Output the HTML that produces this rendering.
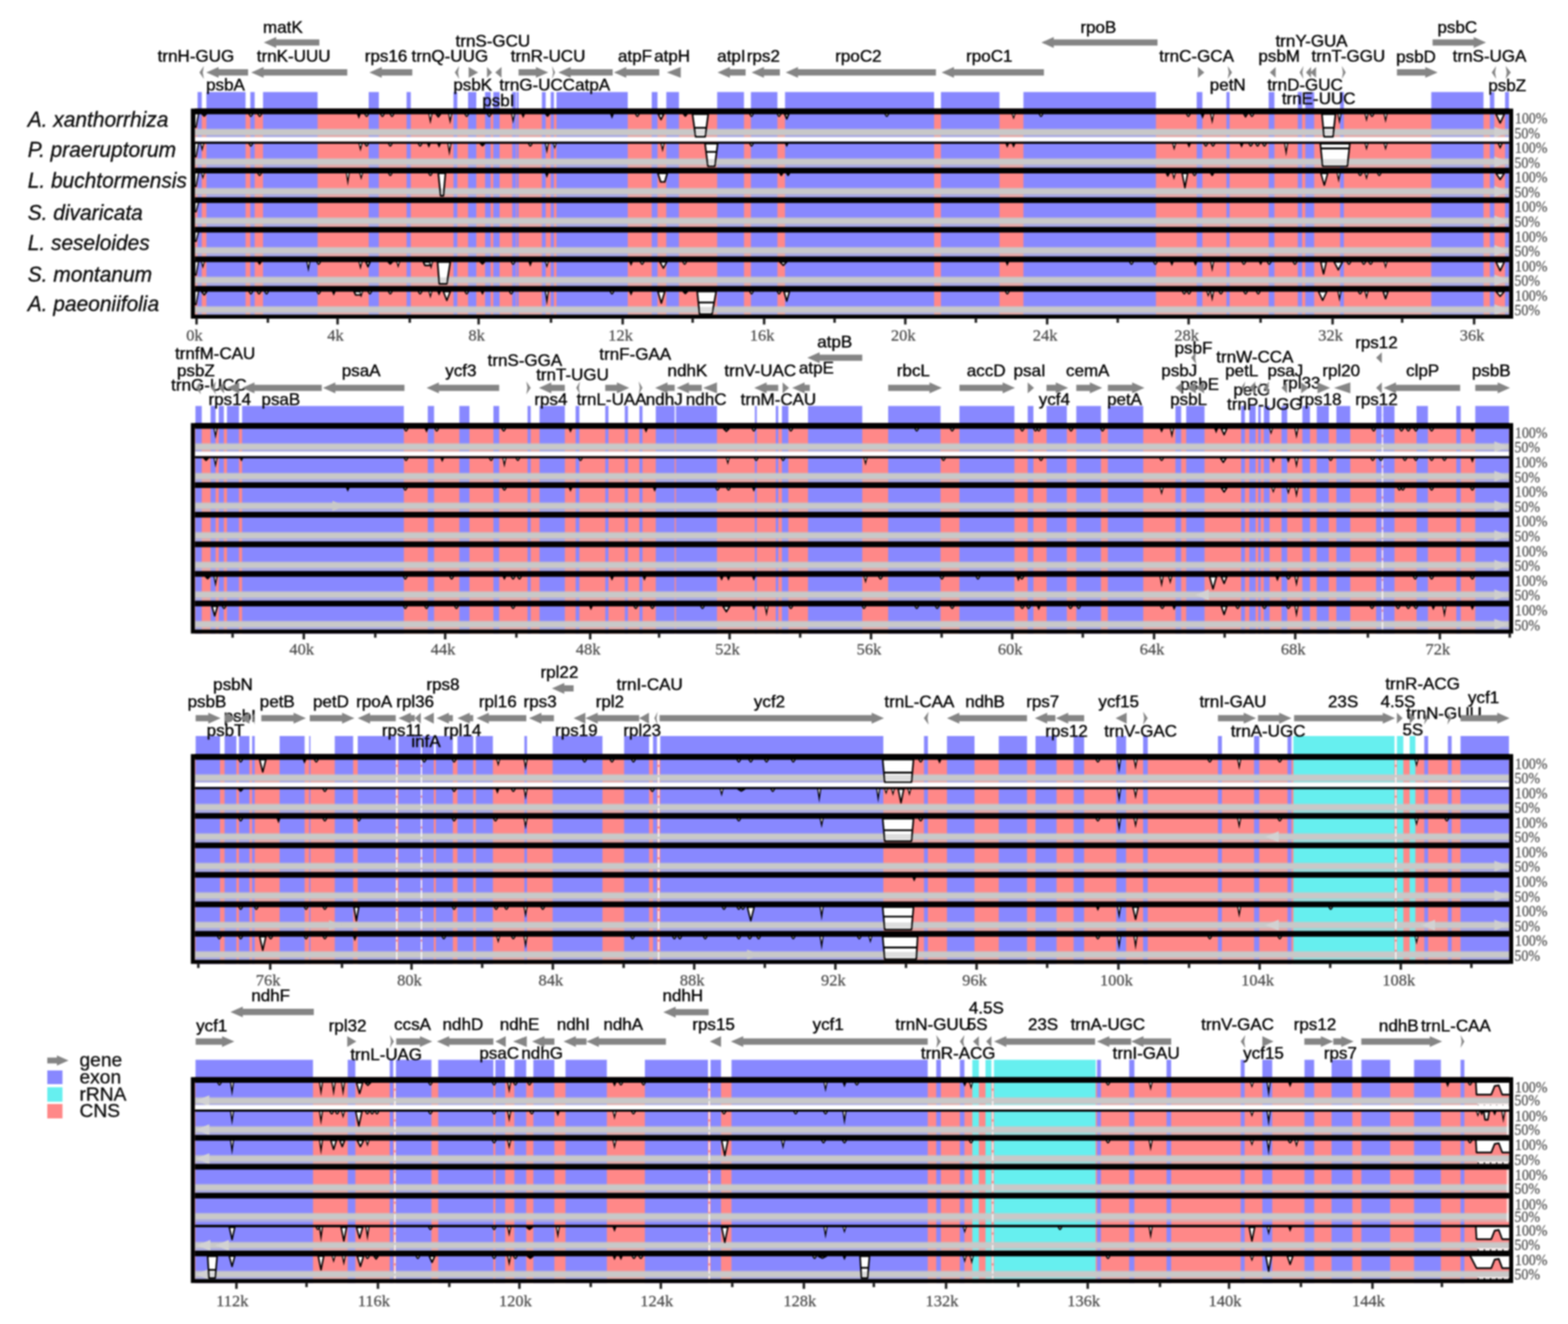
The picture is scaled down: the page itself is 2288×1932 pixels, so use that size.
<!DOCTYPE html><html><head><meta charset="utf-8"><title>mVISTA</title><style>html,body{margin:0;padding:0;background:#fff;}svg{display:block;}#wrap{filter:blur(1px);}.g{font-family:"Liberation Sans",Arial,sans-serif;font-size:24.8px;fill:#000000;stroke:#000000;stroke-width:0.5px;}.sp{font-family:"Liberation Sans",Arial,sans-serif;font-size:30.5px;font-style:italic;fill:#0c0c0c;stroke:#0c0c0c;stroke-width:0.45px;}.ax{font-family:"Liberation Serif","Times New Roman",serif;font-size:24px;fill:#4a4a4a;stroke:#4a4a4a;stroke-width:0.3px;}.pc{font-family:"Liberation Serif","Times New Roman",serif;font-size:23.5px;fill:#505050;stroke:#505050;stroke-width:0.3px;}.lg{font-family:"Liberation Sans",Arial,sans-serif;font-size:28px;fill:#0c0c0c;stroke:#0c0c0c;stroke-width:0.45px;}</style></head><body>
<div id="wrap">
<svg width="2288" height="1932" viewBox="0 0 2288 1932">
<rect x="0" y="0" width="2288" height="1932" fill="#fff"/>
<text class="sp" x="40.5" y="184.5">A. xanthorrhiza</text>
<text class="sp" x="40.5" y="229.2">P. praeruptorum</text>
<text class="sp" x="40.5" y="273.5">L. buchtormensis</text>
<text class="sp" x="40.5" y="320.5">S. divaricata</text>
<text class="sp" x="40.5" y="365.2">L. seseloides</text>
<text class="sp" x="40.5" y="411">S. montanum</text>
<text class="sp" x="40.5" y="454">A. paeoniifolia</text>
<rect x="288.3" y="134.3" width="6.1" height="24.7" fill="#8888ff"/>
<rect x="301.2" y="134.3" width="57.1" height="24.7" fill="#8888ff"/>
<rect x="365.3" y="134.3" width="6.3" height="24.7" fill="#8888ff"/>
<rect x="383.8" y="134.3" width="79.6" height="24.7" fill="#8888ff"/>
<rect x="538" y="134.3" width="14.8" height="24.7" fill="#8888ff"/>
<rect x="593.3" y="134.3" width="6.1" height="24.7" fill="#8888ff"/>
<rect x="661.7" y="134.3" width="5.6" height="24.7" fill="#8888ff"/>
<rect x="683" y="134.3" width="12" height="24.7" fill="#8888ff"/>
<rect x="707.8" y="134.3" width="8.2" height="24.7" fill="#8888ff"/>
<rect x="719.8" y="134.3" width="9.2" height="24.7" fill="#8888ff"/>
<rect x="747.4" y="134.3" width="5.6" height="24.7" fill="#8888ff"/>
<rect x="754" y="134.3" width="2.7" height="24.7" fill="#8888ff"/>
<rect x="790.7" y="134.3" width="5.6" height="24.7" fill="#8888ff"/>
<rect x="803.6" y="134.3" width="4.7" height="24.7" fill="#8888ff"/>
<rect x="812" y="134.3" width="104" height="24.7" fill="#8888ff"/>
<rect x="951" y="134.3" width="8.4" height="24.7" fill="#8888ff"/>
<rect x="972.3" y="134.3" width="18.4" height="24.7" fill="#8888ff"/>
<rect x="1046.5" y="134.3" width="39.1" height="24.7" fill="#8888ff"/>
<rect x="1095.7" y="134.3" width="38.7" height="24.7" fill="#8888ff"/>
<rect x="1145.5" y="134.3" width="217.5" height="24.7" fill="#8888ff"/>
<rect x="1373" y="134.3" width="85.4" height="24.7" fill="#8888ff"/>
<rect x="1493.4" y="134.3" width="193.3" height="24.7" fill="#8888ff"/>
<rect x="1746.2" y="134.3" width="8.3" height="24.7" fill="#8888ff"/>
<rect x="1789.6" y="134.3" width="4.6" height="24.7" fill="#8888ff"/>
<rect x="1851.3" y="134.3" width="8.3" height="24.7" fill="#8888ff"/>
<rect x="1893.7" y="134.3" width="6.3" height="24.7" fill="#8888ff"/>
<rect x="1904.7" y="134.3" width="12.9" height="24.7" fill="#8888ff"/>
<rect x="1955.4" y="134.3" width="5.6" height="24.7" fill="#8888ff"/>
<rect x="2088.5" y="134.3" width="76.2" height="24.7" fill="#8888ff"/>
<rect x="2174" y="134.3" width="6.5" height="24.7" fill="#8888ff"/>
<rect x="2196.2" y="134.3" width="5.6" height="24.7" fill="#8888ff"/>
<rect x="284.3" y="158.5" width="1918.2" height="306.5" fill="#ff8888"/>
<rect x="288.3" y="158.5" width="6.1" height="306.5" fill="#8888ff"/>
<rect x="301.2" y="158.5" width="57.1" height="306.5" fill="#8888ff"/>
<rect x="365.3" y="158.5" width="6.3" height="306.5" fill="#8888ff"/>
<rect x="383.8" y="158.5" width="79.6" height="306.5" fill="#8888ff"/>
<rect x="538" y="158.5" width="14.8" height="306.5" fill="#8888ff"/>
<rect x="593.3" y="158.5" width="6.1" height="306.5" fill="#8888ff"/>
<rect x="661.7" y="158.5" width="5.6" height="306.5" fill="#8888ff"/>
<rect x="683" y="158.5" width="12" height="306.5" fill="#8888ff"/>
<rect x="707.8" y="158.5" width="8.2" height="306.5" fill="#8888ff"/>
<rect x="719.8" y="158.5" width="9.2" height="306.5" fill="#8888ff"/>
<rect x="747.4" y="158.5" width="5.6" height="306.5" fill="#8888ff"/>
<rect x="754" y="158.5" width="2.7" height="306.5" fill="#8888ff"/>
<rect x="790.7" y="158.5" width="5.6" height="306.5" fill="#8888ff"/>
<rect x="803.6" y="158.5" width="4.7" height="306.5" fill="#8888ff"/>
<rect x="812" y="158.5" width="104" height="306.5" fill="#8888ff"/>
<rect x="951" y="158.5" width="8.4" height="306.5" fill="#8888ff"/>
<rect x="972.3" y="158.5" width="18.4" height="306.5" fill="#8888ff"/>
<rect x="1046.5" y="158.5" width="39.1" height="306.5" fill="#8888ff"/>
<rect x="1095.7" y="158.5" width="38.7" height="306.5" fill="#8888ff"/>
<rect x="1145.5" y="158.5" width="217.5" height="306.5" fill="#8888ff"/>
<rect x="1373" y="158.5" width="85.4" height="306.5" fill="#8888ff"/>
<rect x="1493.4" y="158.5" width="193.3" height="306.5" fill="#8888ff"/>
<rect x="1746.2" y="158.5" width="8.3" height="306.5" fill="#8888ff"/>
<rect x="1789.6" y="158.5" width="4.6" height="306.5" fill="#8888ff"/>
<rect x="1851.3" y="158.5" width="8.3" height="306.5" fill="#8888ff"/>
<rect x="1893.7" y="158.5" width="6.3" height="306.5" fill="#8888ff"/>
<rect x="1904.7" y="158.5" width="12.9" height="306.5" fill="#8888ff"/>
<rect x="1955.4" y="158.5" width="5.6" height="306.5" fill="#8888ff"/>
<rect x="2088.5" y="158.5" width="76.2" height="306.5" fill="#8888ff"/>
<rect x="2174" y="158.5" width="6.5" height="306.5" fill="#8888ff"/>
<rect x="2196.2" y="158.5" width="5.6" height="306.5" fill="#8888ff"/>
<rect x="284.3" y="187.5" width="1918.2" height="13.6" fill="#c8c8c8" opacity="0.55"/>
<rect x="284.3" y="189" width="1918.2" height="8" fill="#c8c8c8"/>
<polygon points="2180.5,185 2201.5,193 2180.5,201" fill="#cecece"/>
<rect x="284.3" y="230.65" width="1918.2" height="13.6" fill="#c8c8c8" opacity="0.55"/>
<rect x="284.3" y="232.15" width="1918.2" height="8" fill="#c8c8c8"/>
<polygon points="2180.5,228.15 2201.5,236.15 2180.5,244.15" fill="#cecece"/>
<rect x="284.3" y="273.8" width="1918.2" height="13.6" fill="#c8c8c8" opacity="0.55"/>
<rect x="284.3" y="275.3" width="1918.2" height="8" fill="#c8c8c8"/>
<polygon points="2180.5,271.3 2201.5,279.3 2180.5,287.3" fill="#cecece"/>
<rect x="284.3" y="316.95" width="1918.2" height="13.6" fill="#c8c8c8" opacity="0.55"/>
<rect x="284.3" y="318.45" width="1918.2" height="8" fill="#c8c8c8"/>
<polygon points="2180.5,314.45 2201.5,322.45 2180.5,330.45" fill="#cecece"/>
<rect x="284.3" y="360.1" width="1918.2" height="13.6" fill="#c8c8c8" opacity="0.55"/>
<rect x="284.3" y="361.6" width="1918.2" height="8" fill="#c8c8c8"/>
<polygon points="2180.5,357.6 2201.5,365.6 2180.5,373.6" fill="#cecece"/>
<rect x="284.3" y="403.25" width="1918.2" height="13.6" fill="#c8c8c8" opacity="0.55"/>
<rect x="284.3" y="404.75" width="1918.2" height="8" fill="#c8c8c8"/>
<polygon points="2180.5,400.75 2201.5,408.75 2180.5,416.75" fill="#cecece"/>
<rect x="284.3" y="446.4" width="1918.2" height="13.6" fill="#c8c8c8" opacity="0.55"/>
<rect x="284.3" y="447.9" width="1918.2" height="8" fill="#c8c8c8"/>
<polygon points="2180.5,443.9 2201.5,451.9 2180.5,459.9" fill="#cecece"/>
<polygon points="284.3,165.5 289.8,165.5 286.1,185.5 284.3,185.5" fill="#fff" stroke="#000" stroke-width="1.8"/>
<polygon points="284.3,208.65 289.8,208.65 286.1,228.65 284.3,228.65" fill="#fff" stroke="#000" stroke-width="1.8"/>
<polygon points="284.3,251.8 289.8,251.8 286.1,271.8 284.3,271.8" fill="#fff" stroke="#000" stroke-width="1.8"/>
<polygon points="284.3,294.95 289.8,294.95 286.1,308.95 284.3,308.95" fill="#fff" stroke="#000" stroke-width="1.8"/>
<polygon points="284.3,338.1 289.8,338.1 286.1,352.1 284.3,352.1" fill="#fff" stroke="#000" stroke-width="1.8"/>
<polygon points="284.3,381.25 289.8,381.25 286.1,401.25 284.3,401.25" fill="#fff" stroke="#000" stroke-width="1.8"/>
<polygon points="284.3,424.4 289.8,424.4 286.1,444.4 284.3,444.4" fill="#fff" stroke="#000" stroke-width="1.8"/>
<rect x="284.3" y="158.5" width="1918.2" height="8.2" fill="#000"/>
<rect x="284.3" y="200.15" width="1918.2" height="6.5" fill="#ffffff"/>
<rect x="284.3" y="206.65" width="1918.2" height="3.2" fill="#000"/>
<rect x="284.3" y="244.8" width="1918.2" height="8.2" fill="#000"/>
<rect x="284.3" y="287.95" width="1918.2" height="8.2" fill="#000"/>
<rect x="284.3" y="331.1" width="1918.2" height="8.2" fill="#000"/>
<rect x="284.3" y="374.25" width="1918.2" height="8.2" fill="#000"/>
<rect x="284.3" y="417.4" width="1918.2" height="8.2" fill="#000"/>
<polygon points="295,166.5 301,166.5 298,169.5" fill="#fff" stroke="#000" stroke-width="2.2" stroke-linejoin="round"/>
<path d="M362.4,166 Q366,175.5 369.6,166 Z" fill="#000"/>
<circle cx="366" cy="167.5" r="0.9" fill="#fff"/>
<path d="M375.4,166 Q379,175.5 382.6,166 Z" fill="#000"/>
<circle cx="379" cy="167.5" r="0.9" fill="#fff"/>
<polygon points="520.5,165.5 526.7,165.5 523.6,173.5" fill="#000"/>
<path d="M531.4,166 Q535,175.5 538.6,166 Z" fill="#000"/>
<circle cx="535" cy="167.5" r="0.9" fill="#fff"/>
<path d="M554.4,166 Q558,175.5 561.6,166 Z" fill="#000"/>
<circle cx="558" cy="167.5" r="0.9" fill="#fff"/>
<path d="M568.4,166 Q572,175.5 575.6,166 Z" fill="#000"/>
<circle cx="572" cy="167.5" r="0.9" fill="#fff"/>
<polygon points="624.9,165.5 631.1,165.5 628,181.5" fill="#000"/>
<polygon points="626.7,166.8 629.3,166.8 628,172.8" fill="#fff"/>
<polygon points="636.6,166.5 642.6,166.5 639.6,170.5" fill="#fff" stroke="#000" stroke-width="2.2" stroke-linejoin="round"/>
<polygon points="653.7,165.5 659.9,165.5 656.8,181.5" fill="#000"/>
<polygon points="655.5,166.8 658.1,166.8 656.8,172.8" fill="#fff"/>
<path d="M677.4,166 Q681,175.5 684.6,166 Z" fill="#000"/>
<circle cx="681" cy="167.5" r="0.9" fill="#fff"/>
<path d="M710.4,166 Q714,175.5 717.6,166 Z" fill="#000"/>
<circle cx="714" cy="167.5" r="0.9" fill="#fff"/>
<polygon points="745.6,165.5 751.8,165.5 748.7,180.5" fill="#000"/>
<polygon points="747.4,166.8 750,166.8 748.7,172.38" fill="#fff"/>
<polygon points="760.3,165.5 766.5,165.5 763.4,172.5" fill="#000"/>
<polygon points="796.5,166.5 801.5,166.5 799,169.5" fill="#fff" stroke="#000" stroke-width="2.2" stroke-linejoin="round"/>
<polygon points="889.9,165.5 896.1,165.5 893,173.5" fill="#000"/>
<path d="M926.4,166 Q930,175.5 933.6,166 Z" fill="#000"/>
<circle cx="930" cy="167.5" r="0.9" fill="#fff"/>
<polygon points="960.5,166.5 968.5,166.5 964.5,174.5" fill="#fff" stroke="#000" stroke-width="2.2" stroke-linejoin="round"/>
<polygon points="997.5,166.5 1002.5,166.5 1000,169.5" fill="#fff" stroke="#000" stroke-width="2.2" stroke-linejoin="round"/>
<polygon points="1010.5,166.5 1033.4,166.5 1029,199.5 1015,199.5" fill="#fff" stroke="#000" stroke-width="2.4" stroke-linejoin="round"/>
<rect x="1014.77" y="189" width="14.43" height="8" fill="#c8c8c8" opacity="0.6"/>
<line x1="1013.23" y1="186.5" x2="1030.73" y2="186.5" stroke="#000" stroke-width="2.6"/>
<path d="M1093,166 Q1096.6,175.5 1100.2,166 Z" fill="#000"/>
<circle cx="1096.6" cy="167.5" r="0.9" fill="#fff"/>
<path d="M1133.2,166 Q1136.8,175.5 1140.4,166 Z" fill="#000"/>
<circle cx="1136.8" cy="167.5" r="0.9" fill="#fff"/>
<polygon points="1145,166.5 1151,166.5 1148,173.5" fill="#fff" stroke="#000" stroke-width="2.2" stroke-linejoin="round"/>
<path d="M1290.4,166 Q1294,175.5 1297.6,166 Z" fill="#000"/>
<circle cx="1294" cy="167.5" r="0.9" fill="#fff"/>
<polygon points="1475.9,165.5 1482.1,165.5 1479,174.5" fill="#000"/>
<polygon points="1477.7,166.8 1480.3,166.8 1479,169.86" fill="#fff"/>
<path d="M1515.4,166 Q1519,175.5 1522.6,166 Z" fill="#000"/>
<circle cx="1519" cy="167.5" r="0.9" fill="#fff"/>
<path d="M1730.4,166 Q1734,175.5 1737.6,166 Z" fill="#000"/>
<circle cx="1734" cy="167.5" r="0.9" fill="#fff"/>
<polygon points="1751.7,165.5 1757.9,165.5 1754.8,173.5" fill="#000"/>
<polygon points="1765.7,165.5 1771.9,165.5 1768.8,181.5" fill="#000"/>
<polygon points="1767.5,166.8 1770.1,166.8 1768.8,172.8" fill="#fff"/>
<polygon points="1815,166.5 1820,166.5 1817.5,170.5" fill="#fff" stroke="#000" stroke-width="2.2" stroke-linejoin="round"/>
<path d="M1823.2,166 Q1826.8,175.5 1830.4,166 Z" fill="#000"/>
<circle cx="1826.8" cy="167.5" r="0.9" fill="#fff"/>
<polygon points="1929,166.5 1948.7,166.5 1945,199.5 1932,199.5" fill="#fff" stroke="#000" stroke-width="2.4" stroke-linejoin="round"/>
<rect x="1932.25" y="189" width="12.73" height="8" fill="#c8c8c8" opacity="0.6"/>
<line x1="1930.82" y1="186.5" x2="1946.46" y2="186.5" stroke="#000" stroke-width="2.6"/>
<polygon points="1951.4,165.5 1957.6,165.5 1954.5,181.5" fill="#000"/>
<polygon points="1953.2,166.8 1955.8,166.8 1954.5,172.8" fill="#fff"/>
<polygon points="1990.9,165.5 1997.1,165.5 1994,178.1" fill="#000"/>
<polygon points="1992.7,166.8 1995.3,166.8 1994,171.37" fill="#fff"/>
<path d="M1998.4,166 Q2002,175.5 2005.6,166 Z" fill="#000"/>
<circle cx="2002" cy="167.5" r="0.9" fill="#fff"/>
<polygon points="2018.7,165.5 2024.9,165.5 2021.8,179.5" fill="#000"/>
<polygon points="2020.5,166.8 2023.1,166.8 2021.8,171.96" fill="#fff"/>
<polygon points="2183,166.5 2195,166.5 2189,179.5" fill="#fff" stroke="#000" stroke-width="2.2" stroke-linejoin="round"/>
<polygon points="291.9,208.65 298.1,208.65 295,221.15" fill="#000"/>
<polygon points="293.7,209.95 296.3,209.95 295,214.48" fill="#fff"/>
<path d="M362.4,209.15 Q366,218.65 369.6,209.15 Z" fill="#000"/>
<circle cx="366" cy="210.65" r="0.9" fill="#fff"/>
<polygon points="522.9,208.65 529.1,208.65 526,221.15" fill="#000"/>
<polygon points="524.7,209.95 527.3,209.95 526,214.48" fill="#fff"/>
<path d="M531.4,209.15 Q535,218.65 538.6,209.15 Z" fill="#000"/>
<circle cx="535" cy="210.65" r="0.9" fill="#fff"/>
<path d="M565.9,209.15 Q569.5,218.65 573.1,209.15 Z" fill="#000"/>
<circle cx="569.5" cy="210.65" r="0.9" fill="#fff"/>
<path d="M609.4,209.15 Q613,218.65 616.6,209.15 Z" fill="#000"/>
<circle cx="613" cy="210.65" r="0.9" fill="#fff"/>
<polygon points="622.7,208.65 628.9,208.65 625.8,215.65" fill="#000"/>
<polygon points="637.6,208.65 643.8,208.65 640.7,215.65" fill="#000"/>
<polygon points="652.6,208.65 658.8,208.65 655.7,227.65" fill="#000"/>
<polygon points="654.4,209.95 657,209.95 655.7,217.21" fill="#fff"/>
<polygon points="701,209.65 707,209.65 704,212.65" fill="#fff" stroke="#000" stroke-width="2.2" stroke-linejoin="round"/>
<path d="M770.2,209.15 Q773.8,218.65 777.4,209.15 Z" fill="#000"/>
<circle cx="773.8" cy="210.65" r="0.9" fill="#fff"/>
<polygon points="794.9,208.65 801.1,208.65 798,224.65" fill="#000"/>
<polygon points="796.7,209.95 799.3,209.95 798,215.95" fill="#fff"/>
<polygon points="806.3,208.65 812.5,208.65 809.4,217.65" fill="#000"/>
<polygon points="808.1,209.95 810.7,209.95 809.4,213.01" fill="#fff"/>
<polygon points="963.7,208.65 969.9,208.65 966.8,222.25" fill="#000"/>
<polygon points="965.5,209.95 968.1,209.95 966.8,214.94" fill="#fff"/>
<polygon points="1028.8,209.65 1047.2,209.65 1043,242.65 1033,242.65" fill="#fff" stroke="#000" stroke-width="2.4" stroke-linejoin="round"/>
<rect x="1032.86" y="232.15" width="10.27" height="8" fill="#c8c8c8" opacity="0.6"/>
<line x1="1030.33" y1="221.65" x2="1045.67" y2="221.65" stroke="#000" stroke-width="2.6"/>
<path d="M1093,209.15 Q1096.6,218.65 1100.2,209.15 Z" fill="#000"/>
<circle cx="1096.6" cy="210.65" r="0.9" fill="#fff"/>
<polygon points="1144.9,208.65 1151.1,208.65 1148,214.65" fill="#000"/>
<polygon points="1466.7,208.65 1472.9,208.65 1469.8,215.65" fill="#000"/>
<polygon points="1475.9,208.65 1482.1,208.65 1479,215.65" fill="#000"/>
<polygon points="1710.2,208.65 1716.4,208.65 1713.3,219.65" fill="#000"/>
<polygon points="1712,209.95 1714.6,209.95 1713.3,213.85" fill="#fff"/>
<polygon points="1731.9,208.65 1738.1,208.65 1735,215.65" fill="#000"/>
<path d="M1755.9,209.15 Q1759.5,218.65 1763.1,209.15 Z" fill="#000"/>
<circle cx="1759.5" cy="210.65" r="0.9" fill="#fff"/>
<path d="M1766.4,209.15 Q1770,218.65 1773.6,209.15 Z" fill="#000"/>
<circle cx="1770" cy="210.65" r="0.9" fill="#fff"/>
<polygon points="1808.6,208.65 1814.8,208.65 1811.7,215.65" fill="#000"/>
<path d="M1821.4,209.15 Q1825,218.65 1828.6,209.15 Z" fill="#000"/>
<circle cx="1825" cy="210.65" r="0.9" fill="#fff"/>
<path d="M1831.4,209.15 Q1835,218.65 1838.6,209.15 Z" fill="#000"/>
<circle cx="1835" cy="210.65" r="0.9" fill="#fff"/>
<path d="M1841.4,209.15 Q1845,218.65 1848.6,209.15 Z" fill="#000"/>
<circle cx="1845" cy="210.65" r="0.9" fill="#fff"/>
<polygon points="1873.6,208.65 1879.8,208.65 1876.7,228.25" fill="#000"/>
<polygon points="1875.4,209.95 1878,209.95 1876.7,217.46" fill="#fff"/>
<polygon points="1926.6,209.65 1969.6,209.65 1966,242.65 1930,242.65" fill="#fff" stroke="#000" stroke-width="2.4" stroke-linejoin="round"/>
<rect x="1930.12" y="232.15" width="35.83" height="8" fill="#c8c8c8" opacity="0.6"/>
<line x1="1927.32" y1="216.65" x2="1968.84" y2="216.65" stroke="#000" stroke-width="2.6"/>
<polygon points="1990.9,208.65 1997.1,208.65 1994,219.65" fill="#000"/>
<polygon points="1992.7,209.95 1995.3,209.95 1994,213.85" fill="#fff"/>
<polygon points="2018.7,208.65 2024.9,208.65 2021.8,219.65" fill="#000"/>
<polygon points="2020.5,209.95 2023.1,209.95 2021.8,213.85" fill="#fff"/>
<polygon points="2185,208.65 2193,208.65 2189,217.65" fill="#000"/>
<polygon points="2187.7,209.95 2190.3,209.95 2189,213.01" fill="#fff"/>
<polygon points="293,251.8 299,251.8 296,261.8" fill="#000"/>
<polygon points="294.7,253.1 297.3,253.1 296,256.58" fill="#fff"/>
<path d="M375.2,252.3 Q378.8,261.8 382.4,252.3 Z" fill="#000"/>
<circle cx="378.8" cy="253.8" r="0.9" fill="#fff"/>
<polygon points="504.5,251.8 510.5,251.8 507.5,271.2" fill="#000"/>
<polygon points="506.2,253.1 508.8,253.1 507.5,260.53" fill="#fff"/>
<polygon points="523.9,251.8 530.1,251.8 527,262.8" fill="#000"/>
<polygon points="525.7,253.1 528.3,253.1 527,257" fill="#fff"/>
<path d="M565.9,252.3 Q569.5,261.8 573.1,252.3 Z" fill="#000"/>
<circle cx="569.5" cy="253.8" r="0.9" fill="#fff"/>
<path d="M624.4,252.3 Q628,261.8 631.6,252.3 Z" fill="#000"/>
<circle cx="628" cy="253.8" r="0.9" fill="#fff"/>
<polygon points="639.6,252.8 650,252.8 647,285.8 643,285.8" fill="#fff" stroke="#000" stroke-width="2.4" stroke-linejoin="round"/>
<rect x="643.12" y="275.3" width="3.64" height="8" fill="#c8c8c8" opacity="0.6"/>
<polygon points="794.9,251.8 801.1,251.8 798,259.8" fill="#000"/>
<polygon points="960,252.8 973.7,252.8 970,265.4 964,265.4" fill="#fff" stroke="#000" stroke-width="2.4" stroke-linejoin="round"/>
<polygon points="1138,252.8 1142,252.8 1140,255.8" fill="#fff" stroke="#000" stroke-width="2.2" stroke-linejoin="round"/>
<polygon points="1148,252.8 1152,252.8 1150,255.8" fill="#fff" stroke="#000" stroke-width="2.2" stroke-linejoin="round"/>
<polygon points="1702,252.8 1706,252.8 1704,256.8" fill="#fff" stroke="#000" stroke-width="2.2" stroke-linejoin="round"/>
<polygon points="1709.9,251.8 1716.1,251.8 1713,262.8" fill="#000"/>
<polygon points="1711.7,253.1 1714.3,253.1 1713,257" fill="#fff"/>
<polygon points="1725,252.8 1733,252.8 1729,273.8" fill="#fff" stroke="#000" stroke-width="2.2" stroke-linejoin="round"/>
<path d="M1739.4,252.3 Q1743,261.8 1746.6,252.3 Z" fill="#000"/>
<circle cx="1743" cy="253.8" r="0.9" fill="#fff"/>
<polygon points="1766.8,252.8 1770.8,252.8 1768.8,255.8" fill="#fff" stroke="#000" stroke-width="2.2" stroke-linejoin="round"/>
<polygon points="1927.4,252.8 1937.4,252.8 1932.4,270.2" fill="#fff" stroke="#000" stroke-width="2.2" stroke-linejoin="round"/>
<polygon points="1950.2,251.8 1956.4,251.8 1953.3,266.8" fill="#000"/>
<polygon points="1952,253.1 1954.6,253.1 1953.3,258.68" fill="#fff"/>
<path d="M1981.1,252.3 Q1984.7,261.8 1988.3,252.3 Z" fill="#000"/>
<circle cx="1984.7" cy="253.8" r="0.9" fill="#fff"/>
<polygon points="1990.9,251.8 1997.1,251.8 1994,262.8" fill="#000"/>
<polygon points="1992.7,253.1 1995.3,253.1 1994,257" fill="#fff"/>
<path d="M2009,252.3 Q2012.6,261.8 2016.2,252.3 Z" fill="#000"/>
<circle cx="2012.6" cy="253.8" r="0.9" fill="#fff"/>
<polygon points="2183,252.8 2195,252.8 2189,261.8" fill="#fff" stroke="#000" stroke-width="2.2" stroke-linejoin="round"/>
<polygon points="292.9,381.25 299.1,381.25 296,392.25" fill="#000"/>
<polygon points="294.7,382.55 297.3,382.55 296,386.45" fill="#fff"/>
<polygon points="376.8,382.25 380.8,382.25 378.8,385.25" fill="#fff" stroke="#000" stroke-width="2.2" stroke-linejoin="round"/>
<polygon points="446.9,381.25 453.1,381.25 450,397.25" fill="#000"/>
<polygon points="448.7,382.55 451.3,382.55 450,388.55" fill="#fff"/>
<path d="M461.4,381.75 Q465,391.25 468.6,381.75 Z" fill="#000"/>
<circle cx="465" cy="383.25" r="0.9" fill="#fff"/>
<polygon points="522.9,381.25 529.1,381.25 526,393.75" fill="#000"/>
<polygon points="524.7,382.55 527.3,382.55 526,387.08" fill="#fff"/>
<polygon points="534,382.25 540,382.25 537,389.25" fill="#fff" stroke="#000" stroke-width="2.2" stroke-linejoin="round"/>
<polygon points="566.5,382.25 572.5,382.25 569.5,385.25" fill="#fff" stroke="#000" stroke-width="2.2" stroke-linejoin="round"/>
<polygon points="577.9,381.25 584.1,381.25 581,391.25" fill="#000"/>
<polygon points="579.7,382.55 582.3,382.55 581,386.03" fill="#fff"/>
<polygon points="617.8,382.25 629,382.25 627,387.25 620,387.25" fill="#fff" stroke="#000" stroke-width="2.4" stroke-linejoin="round"/>
<polygon points="625.9,381.25 632.1,381.25 629,393.25" fill="#000"/>
<polygon points="627.7,382.55 630.3,382.55 629,386.87" fill="#fff"/>
<polygon points="638.5,382.25 657,382.25 652,414.25 641,414.25" fill="#fff" stroke="#000" stroke-width="2.4" stroke-linejoin="round"/>
<rect x="641.46" y="404.75" width="10.83" height="8" fill="#c8c8c8" opacity="0.6"/>
<polygon points="701,382.25 707,382.25 704,385.25" fill="#fff" stroke="#000" stroke-width="2.2" stroke-linejoin="round"/>
<path d="M745.1,381.75 Q748.7,391.25 752.3,381.75 Z" fill="#000"/>
<circle cx="748.7" cy="383.25" r="0.9" fill="#fff"/>
<polygon points="770.7,381.25 776.9,381.25 773.8,389.25" fill="#000"/>
<polygon points="794.9,381.25 801.1,381.25 798,391.25" fill="#000"/>
<polygon points="796.7,382.55 799.3,382.55 798,386.03" fill="#fff"/>
<polygon points="917.7,381.25 923.9,381.25 920.8,388.25" fill="#000"/>
<path d="M933.4,381.75 Q937,391.25 940.6,381.75 Z" fill="#000"/>
<circle cx="937" cy="383.25" r="0.9" fill="#fff"/>
<polygon points="963,382.25 973,382.25 968,391.25" fill="#fff" stroke="#000" stroke-width="2.2" stroke-linejoin="round"/>
<path d="M995.4,381.75 Q999,391.25 1002.6,381.75 Z" fill="#000"/>
<circle cx="999" cy="383.25" r="0.9" fill="#fff"/>
<polygon points="1138,382.25 1148,382.25 1143,387.25" fill="#fff" stroke="#000" stroke-width="2.2" stroke-linejoin="round"/>
<polygon points="1466.7,381.25 1472.9,381.25 1469.8,388.25" fill="#000"/>
<path d="M1647.4,381.75 Q1651,391.25 1654.6,381.75 Z" fill="#000"/>
<circle cx="1651" cy="383.25" r="0.9" fill="#fff"/>
<path d="M1682.2,381.75 Q1685.8,391.25 1689.4,381.75 Z" fill="#000"/>
<circle cx="1685.8" cy="383.25" r="0.9" fill="#fff"/>
<polygon points="1706.9,381.25 1713.1,381.25 1710,388.25" fill="#000"/>
<polygon points="1741.3,381.25 1747.5,381.25 1744.4,388.25" fill="#000"/>
<polygon points="1765.7,381.25 1771.9,381.25 1768.8,397.25" fill="#000"/>
<polygon points="1767.5,382.55 1770.1,382.55 1768.8,388.55" fill="#fff"/>
<path d="M1811.4,381.75 Q1815,391.25 1818.6,381.75 Z" fill="#000"/>
<circle cx="1815" cy="383.25" r="0.9" fill="#fff"/>
<polygon points="1836.5,381.25 1842.7,381.25 1839.6,387.25" fill="#000"/>
<path d="M1848.4,381.75 Q1852,391.25 1855.6,381.75 Z" fill="#000"/>
<circle cx="1852" cy="383.25" r="0.9" fill="#fff"/>
<path d="M1885.9,381.75 Q1889.5,391.25 1893.1,381.75 Z" fill="#000"/>
<circle cx="1889.5" cy="383.25" r="0.9" fill="#fff"/>
<polygon points="1927.3,382.25 1935.3,382.25 1931.3,399.65" fill="#fff" stroke="#000" stroke-width="2.2" stroke-linejoin="round"/>
<polygon points="1946.8,382.25 1958.8,382.25 1952.8,393.85" fill="#fff" stroke="#000" stroke-width="2.2" stroke-linejoin="round"/>
<path d="M1964.8,381.75 Q1968.4,391.25 1972,381.75 Z" fill="#000"/>
<circle cx="1968.4" cy="383.25" r="0.9" fill="#fff"/>
<path d="M1986.4,381.75 Q1990,391.25 1993.6,381.75 Z" fill="#000"/>
<circle cx="1990" cy="383.25" r="0.9" fill="#fff"/>
<path d="M1996.4,381.75 Q2000,391.25 2003.6,381.75 Z" fill="#000"/>
<circle cx="2000" cy="383.25" r="0.9" fill="#fff"/>
<polygon points="2018.7,381.25 2024.9,381.25 2021.8,392.25" fill="#000"/>
<polygon points="2020.5,382.55 2023.1,382.55 2021.8,386.45" fill="#fff"/>
<polygon points="2183,382.25 2195,382.25 2189,395.05" fill="#fff" stroke="#000" stroke-width="2.2" stroke-linejoin="round"/>
<polygon points="294,425.4 302,425.4 298,430.4" fill="#fff" stroke="#000" stroke-width="2.2" stroke-linejoin="round"/>
<path d="M362.4,424.9 Q366,434.4 369.6,424.9 Z" fill="#000"/>
<circle cx="366" cy="426.4" r="0.9" fill="#fff"/>
<path d="M374.4,424.9 Q378,434.4 381.6,424.9 Z" fill="#000"/>
<circle cx="378" cy="426.4" r="0.9" fill="#fff"/>
<path d="M385.4,424.9 Q389,434.4 392.6,424.9 Z" fill="#000"/>
<circle cx="389" cy="426.4" r="0.9" fill="#fff"/>
<path d="M461.4,424.9 Q465,434.4 468.6,424.9 Z" fill="#000"/>
<circle cx="465" cy="426.4" r="0.9" fill="#fff"/>
<polygon points="483.9,424.4 490.1,424.4 487,431.4" fill="#000"/>
<polygon points="516.7,425.4 528,425.4 526,430.4 519,430.4" fill="#fff" stroke="#000" stroke-width="2.4" stroke-linejoin="round"/>
<polygon points="523.9,424.4 530.1,424.4 527,434.4" fill="#000"/>
<polygon points="525.7,425.7 528.3,425.7 527,429.18" fill="#fff"/>
<path d="M536.1,424.9 Q539.7,434.4 543.3,424.9 Z" fill="#000"/>
<circle cx="539.7" cy="426.4" r="0.9" fill="#fff"/>
<path d="M565.9,424.9 Q569.5,434.4 573.1,424.9 Z" fill="#000"/>
<circle cx="569.5" cy="426.4" r="0.9" fill="#fff"/>
<path d="M609.4,424.9 Q613,434.4 616.6,424.9 Z" fill="#000"/>
<circle cx="613" cy="426.4" r="0.9" fill="#fff"/>
<polygon points="624.9,424.4 631.1,424.4 628,435.4" fill="#000"/>
<polygon points="626.7,425.7 629.3,425.7 628,429.6" fill="#fff"/>
<polygon points="637.6,424.4 643.8,424.4 640.7,431.4" fill="#000"/>
<polygon points="647,425.4 657,425.4 652,438.4" fill="#fff" stroke="#000" stroke-width="2.2" stroke-linejoin="round"/>
<path d="M677.4,424.9 Q681,434.4 684.6,424.9 Z" fill="#000"/>
<circle cx="681" cy="426.4" r="0.9" fill="#fff"/>
<polygon points="700.9,424.4 707.1,424.4 704,430.4" fill="#000"/>
<path d="M742.4,424.9 Q746,434.4 749.6,424.9 Z" fill="#000"/>
<circle cx="746" cy="426.4" r="0.9" fill="#fff"/>
<polygon points="794.9,424.4 801.1,424.4 798,446.1" fill="#000"/>
<polygon points="796.7,425.7 799.3,425.7 798,433.4" fill="#fff"/>
<path d="M889.4,424.9 Q893,434.4 896.6,424.9 Z" fill="#000"/>
<circle cx="893" cy="426.4" r="0.9" fill="#fff"/>
<polygon points="917.7,424.4 923.9,424.4 920.8,431.4" fill="#000"/>
<polygon points="960,425.4 970,425.4 965,442.4" fill="#fff" stroke="#000" stroke-width="2.2" stroke-linejoin="round"/>
<polygon points="997,425.4 1003,425.4 1000,428.4" fill="#fff" stroke="#000" stroke-width="2.2" stroke-linejoin="round"/>
<polygon points="1017.4,425.4 1045,425.4 1039,458.4 1020.8,458.4" fill="#fff" stroke="#000" stroke-width="2.4" stroke-linejoin="round"/>
<rect x="1020.92" y="447.9" width="18.79" height="8" fill="#c8c8c8" opacity="0.6"/>
<line x1="1019.05" y1="441.4" x2="1042.09" y2="441.4" stroke="#000" stroke-width="2.6"/>
<path d="M1093,424.9 Q1096.6,434.4 1100.2,424.9 Z" fill="#000"/>
<circle cx="1096.6" cy="426.4" r="0.9" fill="#fff"/>
<path d="M1133.2,424.9 Q1136.8,434.4 1140.4,424.9 Z" fill="#000"/>
<circle cx="1136.8" cy="426.4" r="0.9" fill="#fff"/>
<polygon points="1144,425.4 1152,425.4 1148,439.4" fill="#fff" stroke="#000" stroke-width="2.2" stroke-linejoin="round"/>
<path d="M1466.2,424.9 Q1469.8,434.4 1473.4,424.9 Z" fill="#000"/>
<circle cx="1469.8" cy="426.4" r="0.9" fill="#fff"/>
<path d="M1724.4,424.9 Q1728,434.4 1731.6,424.9 Z" fill="#000"/>
<circle cx="1728" cy="426.4" r="0.9" fill="#fff"/>
<path d="M1731.4,424.9 Q1735,434.4 1738.6,424.9 Z" fill="#000"/>
<circle cx="1735" cy="426.4" r="0.9" fill="#fff"/>
<polygon points="1759.9,424.4 1766.1,424.4 1763,433.4" fill="#000"/>
<polygon points="1761.7,425.7 1764.3,425.7 1763,428.76" fill="#fff"/>
<polygon points="1765.7,424.4 1771.9,424.4 1768.8,440.4" fill="#000"/>
<polygon points="1767.5,425.7 1770.1,425.7 1768.8,431.7" fill="#fff"/>
<path d="M1777.9,424.9 Q1781.5,434.4 1785.1,424.9 Z" fill="#000"/>
<circle cx="1781.5" cy="426.4" r="0.9" fill="#fff"/>
<path d="M1813.9,424.9 Q1817.5,434.4 1821.1,424.9 Z" fill="#000"/>
<circle cx="1817.5" cy="426.4" r="0.9" fill="#fff"/>
<path d="M1832.4,424.9 Q1836,434.4 1839.6,424.9 Z" fill="#000"/>
<circle cx="1836" cy="426.4" r="0.9" fill="#fff"/>
<polygon points="1924,425.4 1936,425.4 1930,438.2" fill="#fff" stroke="#000" stroke-width="2.2" stroke-linejoin="round"/>
<polygon points="1951.4,424.4 1957.6,424.4 1954.5,440.4" fill="#000"/>
<polygon points="1953.2,425.7 1955.8,425.7 1954.5,431.7" fill="#fff"/>
<path d="M1981.1,424.9 Q1984.7,434.4 1988.3,424.9 Z" fill="#000"/>
<circle cx="1984.7" cy="426.4" r="0.9" fill="#fff"/>
<polygon points="1990.9,424.4 1997.1,424.4 1994,437" fill="#000"/>
<polygon points="1992.7,425.7 1995.3,425.7 1994,430.27" fill="#fff"/>
<polygon points="2018.3,425.4 2025.3,425.4 2021.8,435.8" fill="#fff" stroke="#000" stroke-width="2.2" stroke-linejoin="round"/>
<polygon points="2183,425.4 2195,425.4 2189,432.4" fill="#fff" stroke="#000" stroke-width="2.2" stroke-linejoin="round"/>
<rect x="281.4" y="161.4" width="1923.7" height="300.7" fill="none" stroke="#000" stroke-width="5.8"/>
<text class="pc" transform="translate(2210.5,179.9) scale(0.865,1)">100%</text>
<text class="pc" transform="translate(2209.8,201.5) scale(0.865,1)">50%</text>
<text class="pc" transform="translate(2210.5,223.05) scale(0.865,1)">100%</text>
<text class="pc" transform="translate(2209.8,244.65) scale(0.865,1)">50%</text>
<text class="pc" transform="translate(2210.5,266.2) scale(0.865,1)">100%</text>
<text class="pc" transform="translate(2209.8,287.8) scale(0.865,1)">50%</text>
<text class="pc" transform="translate(2210.5,309.35) scale(0.865,1)">100%</text>
<text class="pc" transform="translate(2209.8,330.95) scale(0.865,1)">50%</text>
<text class="pc" transform="translate(2210.5,352.5) scale(0.865,1)">100%</text>
<text class="pc" transform="translate(2209.8,374.1) scale(0.865,1)">50%</text>
<text class="pc" transform="translate(2210.5,395.65) scale(0.865,1)">100%</text>
<text class="pc" transform="translate(2209.8,417.25) scale(0.865,1)">50%</text>
<text class="pc" transform="translate(2210.5,438.8) scale(0.865,1)">100%</text>
<text class="pc" transform="translate(2209.8,460.4) scale(0.865,1)">50%</text>
<rect x="285.2" y="592.4" width="9.2" height="25.5" fill="#8888ff"/>
<rect x="307.3" y="592.4" width="7.3" height="25.5" fill="#8888ff"/>
<rect x="319.2" y="592.4" width="7.4" height="25.5" fill="#8888ff"/>
<rect x="331.2" y="592.4" width="17.5" height="25.5" fill="#8888ff"/>
<rect x="353.3" y="592.4" width="236" height="25.5" fill="#8888ff"/>
<rect x="624.2" y="592.4" width="9.2" height="25.5" fill="#8888ff"/>
<rect x="670.3" y="592.4" width="14.7" height="25.5" fill="#8888ff"/>
<rect x="720" y="592.4" width="8.4" height="25.5" fill="#8888ff"/>
<rect x="769.8" y="592.4" width="4.6" height="25.5" fill="#8888ff"/>
<rect x="787.3" y="592.4" width="36.9" height="25.5" fill="#8888ff"/>
<rect x="839.9" y="592.4" width="5.5" height="25.5" fill="#8888ff"/>
<rect x="883.2" y="592.4" width="4.6" height="25.5" fill="#8888ff"/>
<rect x="911.7" y="592.4" width="4.6" height="25.5" fill="#8888ff"/>
<rect x="933" y="592.4" width="4.5" height="25.5" fill="#8888ff"/>
<rect x="956.9" y="592.4" width="27.6" height="25.5" fill="#8888ff"/>
<rect x="986.3" y="592.4" width="59.9" height="25.5" fill="#8888ff"/>
<rect x="1101.5" y="592.4" width="2.8" height="25.5" fill="#8888ff"/>
<rect x="1132" y="592.4" width="3.6" height="25.5" fill="#8888ff"/>
<rect x="1141" y="592.4" width="9.4" height="25.5" fill="#8888ff"/>
<rect x="1179" y="592.4" width="79.2" height="25.5" fill="#8888ff"/>
<rect x="1296" y="592.4" width="76.4" height="25.5" fill="#8888ff"/>
<rect x="1400" y="592.4" width="80.2" height="25.5" fill="#8888ff"/>
<rect x="1499.6" y="592.4" width="8.3" height="25.5" fill="#8888ff"/>
<rect x="1527.2" y="592.4" width="29.5" height="25.5" fill="#8888ff"/>
<rect x="1570.5" y="592.4" width="36" height="25.5" fill="#8888ff"/>
<rect x="1616.6" y="592.4" width="51.6" height="25.5" fill="#8888ff"/>
<rect x="1715.2" y="592.4" width="8.3" height="25.5" fill="#8888ff"/>
<rect x="1730.9" y="592.4" width="26.7" height="25.5" fill="#8888ff"/>
<rect x="1811" y="592.4" width="5.6" height="25.5" fill="#8888ff"/>
<rect x="1823" y="592.4" width="9.2" height="25.5" fill="#8888ff"/>
<rect x="1836" y="592.4" width="3.6" height="25.5" fill="#8888ff"/>
<rect x="1844.2" y="592.4" width="8.3" height="25.5" fill="#8888ff"/>
<rect x="1870" y="592.4" width="8.3" height="25.5" fill="#8888ff"/>
<rect x="1900.4" y="592.4" width="11.1" height="25.5" fill="#8888ff"/>
<rect x="1921.4" y="592.4" width="17.6" height="25.5" fill="#8888ff"/>
<rect x="1950" y="592.4" width="20.3" height="25.5" fill="#8888ff"/>
<rect x="2008" y="592.4" width="8.3" height="25.5" fill="#8888ff"/>
<rect x="2018.2" y="592.4" width="16.6" height="25.5" fill="#8888ff"/>
<rect x="2067" y="592.4" width="16.6" height="25.5" fill="#8888ff"/>
<rect x="2125" y="592.4" width="6.5" height="25.5" fill="#8888ff"/>
<rect x="2152.7" y="592.4" width="49.1" height="25.5" fill="#8888ff"/>
<rect x="284.3" y="617.4" width="1918.2" height="307.1" fill="#ff8888"/>
<rect x="285.2" y="617.4" width="9.2" height="307.1" fill="#8888ff"/>
<rect x="307.3" y="617.4" width="7.3" height="307.1" fill="#8888ff"/>
<rect x="319.2" y="617.4" width="7.4" height="307.1" fill="#8888ff"/>
<rect x="331.2" y="617.4" width="17.5" height="307.1" fill="#8888ff"/>
<rect x="353.3" y="617.4" width="236" height="307.1" fill="#8888ff"/>
<rect x="624.2" y="617.4" width="9.2" height="307.1" fill="#8888ff"/>
<rect x="670.3" y="617.4" width="14.7" height="307.1" fill="#8888ff"/>
<rect x="720" y="617.4" width="8.4" height="307.1" fill="#8888ff"/>
<rect x="769.8" y="617.4" width="4.6" height="307.1" fill="#8888ff"/>
<rect x="787.3" y="617.4" width="36.9" height="307.1" fill="#8888ff"/>
<rect x="839.9" y="617.4" width="5.5" height="307.1" fill="#8888ff"/>
<rect x="883.2" y="617.4" width="4.6" height="307.1" fill="#8888ff"/>
<rect x="911.7" y="617.4" width="4.6" height="307.1" fill="#8888ff"/>
<rect x="933" y="617.4" width="4.5" height="307.1" fill="#8888ff"/>
<rect x="956.9" y="617.4" width="27.6" height="307.1" fill="#8888ff"/>
<rect x="986.3" y="617.4" width="59.9" height="307.1" fill="#8888ff"/>
<rect x="1101.5" y="617.4" width="2.8" height="307.1" fill="#8888ff"/>
<rect x="1132" y="617.4" width="3.6" height="307.1" fill="#8888ff"/>
<rect x="1141" y="617.4" width="9.4" height="307.1" fill="#8888ff"/>
<rect x="1179" y="617.4" width="79.2" height="307.1" fill="#8888ff"/>
<rect x="1296" y="617.4" width="76.4" height="307.1" fill="#8888ff"/>
<rect x="1400" y="617.4" width="80.2" height="307.1" fill="#8888ff"/>
<rect x="1499.6" y="617.4" width="8.3" height="307.1" fill="#8888ff"/>
<rect x="1527.2" y="617.4" width="29.5" height="307.1" fill="#8888ff"/>
<rect x="1570.5" y="617.4" width="36" height="307.1" fill="#8888ff"/>
<rect x="1616.6" y="617.4" width="51.6" height="307.1" fill="#8888ff"/>
<rect x="1715.2" y="617.4" width="8.3" height="307.1" fill="#8888ff"/>
<rect x="1730.9" y="617.4" width="26.7" height="307.1" fill="#8888ff"/>
<rect x="1811" y="617.4" width="5.6" height="307.1" fill="#8888ff"/>
<rect x="1823" y="617.4" width="9.2" height="307.1" fill="#8888ff"/>
<rect x="1836" y="617.4" width="3.6" height="307.1" fill="#8888ff"/>
<rect x="1844.2" y="617.4" width="8.3" height="307.1" fill="#8888ff"/>
<rect x="1870" y="617.4" width="8.3" height="307.1" fill="#8888ff"/>
<rect x="1900.4" y="617.4" width="11.1" height="307.1" fill="#8888ff"/>
<rect x="1921.4" y="617.4" width="17.6" height="307.1" fill="#8888ff"/>
<rect x="1950" y="617.4" width="20.3" height="307.1" fill="#8888ff"/>
<rect x="2008" y="617.4" width="8.3" height="307.1" fill="#8888ff"/>
<rect x="2018.2" y="617.4" width="16.6" height="307.1" fill="#8888ff"/>
<rect x="2067" y="617.4" width="16.6" height="307.1" fill="#8888ff"/>
<rect x="2125" y="617.4" width="6.5" height="307.1" fill="#8888ff"/>
<rect x="2152.7" y="617.4" width="49.1" height="307.1" fill="#8888ff"/>
<rect x="284.3" y="646.4" width="1918.2" height="13.6" fill="#c8c8c8" opacity="0.55"/>
<rect x="284.3" y="647.9" width="1918.2" height="8" fill="#c8c8c8"/>
<polygon points="2180.5,643.9 2201.5,651.9 2180.5,659.9" fill="#cecece"/>
<rect x="284.3" y="689.6" width="1918.2" height="13.6" fill="#c8c8c8" opacity="0.55"/>
<rect x="284.3" y="691.1" width="1918.2" height="8" fill="#c8c8c8"/>
<polygon points="2180.5,687.1 2201.5,695.1 2180.5,703.1" fill="#cecece"/>
<rect x="284.3" y="732.8" width="1918.2" height="13.6" fill="#c8c8c8" opacity="0.55"/>
<rect x="284.3" y="734.3" width="1918.2" height="8" fill="#c8c8c8"/>
<polygon points="2180.5,730.3 2201.5,738.3 2180.5,746.3" fill="#cecece"/>
<polygon points="485,730.8 505,738.3 485,745.8" fill="#c8c8c8"/>
<rect x="284.3" y="776" width="1918.2" height="13.6" fill="#c8c8c8" opacity="0.55"/>
<rect x="284.3" y="777.5" width="1918.2" height="8" fill="#c8c8c8"/>
<polygon points="2180.5,773.5 2201.5,781.5 2180.5,789.5" fill="#cecece"/>
<rect x="284.3" y="819.2" width="1918.2" height="13.6" fill="#c8c8c8" opacity="0.55"/>
<rect x="284.3" y="820.7" width="1918.2" height="8" fill="#c8c8c8"/>
<polygon points="2180.5,816.7 2201.5,824.7 2180.5,832.7" fill="#cecece"/>
<rect x="284.3" y="862.4" width="1918.2" height="13.6" fill="#c8c8c8" opacity="0.55"/>
<rect x="284.3" y="863.9" width="1918.2" height="8" fill="#c8c8c8"/>
<polygon points="2180.5,859.9 2201.5,867.9 2180.5,875.9" fill="#cecece"/>
<polygon points="1764,859.9 1744,867.9 1764,875.9" fill="#d2d2d2"/>
<rect x="284.3" y="905.6" width="1918.2" height="13.6" fill="#c8c8c8" opacity="0.55"/>
<rect x="284.3" y="907.1" width="1918.2" height="8" fill="#c8c8c8"/>
<polygon points="2180.5,903.1 2201.5,911.1 2180.5,919.1" fill="#cecece"/>
<line x1="2017.3" y1="592.4" x2="2017.3" y2="924.5" stroke="#fff" stroke-width="1.7" stroke-dasharray="12 3"/>
<rect x="284.3" y="617.4" width="1918.2" height="8.2" fill="#000"/>
<rect x="284.3" y="659.1" width="1918.2" height="6.5" fill="#ffffff"/>
<rect x="284.3" y="665.6" width="1918.2" height="3.2" fill="#000"/>
<rect x="284.3" y="703.8" width="1918.2" height="8.2" fill="#000"/>
<rect x="284.3" y="747" width="1918.2" height="8.2" fill="#000"/>
<rect x="284.3" y="790.2" width="1918.2" height="8.2" fill="#000"/>
<rect x="284.3" y="833.4" width="1918.2" height="8.2" fill="#000"/>
<rect x="284.3" y="876.6" width="1918.2" height="8.2" fill="#000"/>
<polygon points="311.4,624.4 317.6,624.4 314.5,640.4" fill="#000"/>
<polygon points="313.2,625.7 315.8,625.7 314.5,631.7" fill="#fff"/>
<path d="M588.9,624.9 Q592.5,634.4 596.1,624.9 Z" fill="#000"/>
<circle cx="592.5" cy="626.4" r="0.9" fill="#fff"/>
<polygon points="619.3,624.4 625.5,624.4 622.4,631.4" fill="#000"/>
<path d="M633.7,624.9 Q637.3,634.4 640.9,624.9 Z" fill="#000"/>
<circle cx="637.3" cy="626.4" r="0.9" fill="#fff"/>
<path d="M731.4,624.9 Q735,634.4 738.6,624.9 Z" fill="#000"/>
<circle cx="735" cy="626.4" r="0.9" fill="#fff"/>
<polygon points="829.3,624.4 835.5,624.4 832.4,631.4" fill="#000"/>
<polygon points="939.6,624.4 945.8,624.4 942.7,631.4" fill="#000"/>
<polygon points="1055.9,625.4 1063.9,625.4 1059.9,629.4" fill="#fff" stroke="#000" stroke-width="2.2" stroke-linejoin="round"/>
<path d="M1096.4,624.9 Q1100,634.4 1103.6,624.9 Z" fill="#000"/>
<circle cx="1100" cy="626.4" r="0.9" fill="#fff"/>
<path d="M1150.4,624.9 Q1154,634.4 1157.6,624.9 Z" fill="#000"/>
<circle cx="1154" cy="626.4" r="0.9" fill="#fff"/>
<path d="M1334.1,624.9 Q1337.7,634.4 1341.3,624.9 Z" fill="#000"/>
<circle cx="1337.7" cy="626.4" r="0.9" fill="#fff"/>
<path d="M1385.8,624.9 Q1389.4,634.4 1393,624.9 Z" fill="#000"/>
<circle cx="1389.4" cy="626.4" r="0.9" fill="#fff"/>
<path d="M1488,624.9 Q1491.6,634.4 1495.2,624.9 Z" fill="#000"/>
<circle cx="1491.6" cy="626.4" r="0.9" fill="#fff"/>
<path d="M1507.4,624.9 Q1511,634.4 1514.6,624.9 Z" fill="#000"/>
<circle cx="1511" cy="626.4" r="0.9" fill="#fff"/>
<path d="M1512.1,624.9 Q1515.7,634.4 1519.3,624.9 Z" fill="#000"/>
<circle cx="1515.7" cy="626.4" r="0.9" fill="#fff"/>
<path d="M1559.2,624.9 Q1562.8,634.4 1566.4,624.9 Z" fill="#000"/>
<circle cx="1562.8" cy="626.4" r="0.9" fill="#fff"/>
<path d="M1605.2,624.9 Q1608.8,634.4 1612.4,624.9 Z" fill="#000"/>
<circle cx="1608.8" cy="626.4" r="0.9" fill="#fff"/>
<polygon points="1691.9,624.4 1698.1,624.4 1695,631.4" fill="#000"/>
<polygon points="1706.9,624.4 1713.1,624.4 1710,639.4" fill="#000"/>
<polygon points="1708.7,625.7 1711.3,625.7 1710,631.28" fill="#fff"/>
<polygon points="1771.5,624.4 1777.7,624.4 1774.6,632.4" fill="#000"/>
<polygon points="1782.2,625.4 1790.2,625.4 1786.2,634.4" fill="#fff" stroke="#000" stroke-width="2.2" stroke-linejoin="round"/>
<polygon points="1851.6,624.4 1857.8,624.4 1854.7,634.4" fill="#000"/>
<polygon points="1853.4,625.7 1856,625.7 1854.7,629.18" fill="#fff"/>
<polygon points="1888.7,624.4 1894.9,624.4 1891.8,640.4" fill="#000"/>
<polygon points="1890.5,625.7 1893.1,625.7 1891.8,631.7" fill="#fff"/>
<path d="M2000.8,624.9 Q2004.4,634.4 2008,624.9 Z" fill="#000"/>
<circle cx="2004.4" cy="626.4" r="0.9" fill="#fff"/>
<path d="M2041.4,624.9 Q2045,634.4 2048.6,624.9 Z" fill="#000"/>
<circle cx="2045" cy="626.4" r="0.9" fill="#fff"/>
<path d="M2051.4,624.9 Q2055,634.4 2058.6,624.9 Z" fill="#000"/>
<circle cx="2055" cy="626.4" r="0.9" fill="#fff"/>
<path d="M2062.4,624.9 Q2066,634.4 2069.6,624.9 Z" fill="#000"/>
<circle cx="2066" cy="626.4" r="0.9" fill="#fff"/>
<path d="M2085.4,624.9 Q2089,634.4 2092.6,624.9 Z" fill="#000"/>
<circle cx="2089" cy="626.4" r="0.9" fill="#fff"/>
<polygon points="2145.3,624.4 2151.5,624.4 2148.4,630.4" fill="#000"/>
<polygon points="297.7,668.6 303.7,668.6 300.7,671.6" fill="#fff" stroke="#000" stroke-width="2.2" stroke-linejoin="round"/>
<polygon points="311.4,667.6 317.6,667.6 314.5,682.6" fill="#000"/>
<polygon points="313.2,668.9 315.8,668.9 314.5,674.48" fill="#fff"/>
<polygon points="349.3,667.6 355.5,667.6 352.4,673.6" fill="#000"/>
<path d="M588.9,668.1 Q592.5,677.6 596.1,668.1 Z" fill="#000"/>
<circle cx="592.5" cy="669.6" r="0.9" fill="#fff"/>
<polygon points="642.2,667.6 648.4,667.6 645.3,674.6" fill="#000"/>
<path d="M713,668.1 Q716.6,677.6 720.2,668.1 Z" fill="#000"/>
<circle cx="716.6" cy="669.6" r="0.9" fill="#fff"/>
<polygon points="732.9,667.6 739.1,667.6 736,682.6" fill="#000"/>
<polygon points="734.7,668.9 737.3,668.9 736,674.48" fill="#fff"/>
<path d="M752,668.1 Q755.6,677.6 759.2,668.1 Z" fill="#000"/>
<circle cx="755.6" cy="669.6" r="0.9" fill="#fff"/>
<path d="M843.4,668.1 Q847,677.6 850.6,668.1 Z" fill="#000"/>
<circle cx="847" cy="669.6" r="0.9" fill="#fff"/>
<polygon points="1058.9,667.6 1065.1,667.6 1062,678.6" fill="#000"/>
<polygon points="1060.7,668.9 1063.3,668.9 1062,672.8" fill="#fff"/>
<path d="M1099.9,668.1 Q1103.5,677.6 1107.1,668.1 Z" fill="#000"/>
<circle cx="1103.5" cy="669.6" r="0.9" fill="#fff"/>
<path d="M1139,668.1 Q1142.6,677.6 1146.2,668.1 Z" fill="#000"/>
<circle cx="1142.6" cy="669.6" r="0.9" fill="#fff"/>
<polygon points="1259.9,667.6 1266.1,667.6 1263,679.6" fill="#000"/>
<polygon points="1261.7,668.9 1264.3,668.9 1263,673.22" fill="#fff"/>
<path d="M1373.1,668.1 Q1376.7,677.6 1380.3,668.1 Z" fill="#000"/>
<circle cx="1376.7" cy="669.6" r="0.9" fill="#fff"/>
<path d="M1515.4,668.1 Q1519,677.6 1522.6,668.1 Z" fill="#000"/>
<circle cx="1519" cy="669.6" r="0.9" fill="#fff"/>
<path d="M1691.4,668.1 Q1695,677.6 1698.6,668.1 Z" fill="#000"/>
<circle cx="1695" cy="669.6" r="0.9" fill="#fff"/>
<polygon points="1781,668.6 1789,668.6 1785,674.6" fill="#fff" stroke="#000" stroke-width="2.2" stroke-linejoin="round"/>
<polygon points="1854.9,667.6 1861.1,667.6 1858,675.6" fill="#000"/>
<polygon points="1876.9,667.6 1883.1,667.6 1880,675.6" fill="#000"/>
<polygon points="1888.7,667.6 1894.9,667.6 1891.8,683.6" fill="#000"/>
<polygon points="1890.5,668.9 1893.1,668.9 1891.8,674.9" fill="#fff"/>
<path d="M1938.1,668.1 Q1941.7,677.6 1945.3,668.1 Z" fill="#000"/>
<circle cx="1941.7" cy="669.6" r="0.9" fill="#fff"/>
<path d="M1999.4,668.1 Q2003,677.6 2006.6,668.1 Z" fill="#000"/>
<circle cx="2003" cy="669.6" r="0.9" fill="#fff"/>
<path d="M2011.4,668.1 Q2015,677.6 2018.6,668.1 Z" fill="#000"/>
<circle cx="2015" cy="669.6" r="0.9" fill="#fff"/>
<path d="M2046.4,668.1 Q2050,677.6 2053.6,668.1 Z" fill="#000"/>
<circle cx="2050" cy="669.6" r="0.9" fill="#fff"/>
<path d="M2062.4,668.1 Q2066,677.6 2069.6,668.1 Z" fill="#000"/>
<circle cx="2066" cy="669.6" r="0.9" fill="#fff"/>
<path d="M2085.4,668.1 Q2089,677.6 2092.6,668.1 Z" fill="#000"/>
<circle cx="2089" cy="669.6" r="0.9" fill="#fff"/>
<path d="M2104.1,668.1 Q2107.7,677.6 2111.3,668.1 Z" fill="#000"/>
<circle cx="2107.7" cy="669.6" r="0.9" fill="#fff"/>
<polygon points="2145.3,667.6 2151.5,667.6 2148.4,675.6" fill="#000"/>
<polygon points="504.4,710.8 510.6,710.8 507.5,717.8" fill="#000"/>
<path d="M587.8,711.3 Q591.4,720.8 595,711.3 Z" fill="#000"/>
<circle cx="591.4" cy="712.8" r="0.9" fill="#fff"/>
<path d="M732.4,711.3 Q736,720.8 739.6,711.3 Z" fill="#000"/>
<circle cx="736" cy="712.8" r="0.9" fill="#fff"/>
<polygon points="829.3,710.8 835.5,710.8 832.4,717.8" fill="#000"/>
<polygon points="952.2,710.8 958.4,710.8 955.3,717.8" fill="#000"/>
<path d="M1043.4,711.3 Q1047,720.8 1050.6,711.3 Z" fill="#000"/>
<circle cx="1047" cy="712.8" r="0.9" fill="#fff"/>
<path d="M1059.4,711.3 Q1063,720.8 1066.6,711.3 Z" fill="#000"/>
<circle cx="1063" cy="712.8" r="0.9" fill="#fff"/>
<polygon points="1096.9,710.8 1103.1,710.8 1100,717.8" fill="#000"/>
<polygon points="1691.9,710.8 1698.1,710.8 1695,722.8" fill="#000"/>
<polygon points="1693.7,712.1 1696.3,712.1 1695,716.42" fill="#fff"/>
<polygon points="1782.2,711.8 1790.2,711.8 1786.2,717.8" fill="#fff" stroke="#000" stroke-width="2.2" stroke-linejoin="round"/>
<polygon points="1854.9,710.8 1861.1,710.8 1858,719.8" fill="#000"/>
<polygon points="1856.7,712.1 1859.3,712.1 1858,715.16" fill="#fff"/>
<polygon points="1876.9,710.8 1883.1,710.8 1880,721.8" fill="#000"/>
<polygon points="1878.7,712.1 1881.3,712.1 1880,716" fill="#fff"/>
<polygon points="1888.7,710.8 1894.9,710.8 1891.8,726.8" fill="#000"/>
<polygon points="1890.5,712.1 1893.1,712.1 1891.8,718.1" fill="#fff"/>
<path d="M2038.4,711.3 Q2042,720.8 2045.6,711.3 Z" fill="#000"/>
<circle cx="2042" cy="712.8" r="0.9" fill="#fff"/>
<path d="M2043.4,711.3 Q2047,720.8 2050.6,711.3 Z" fill="#000"/>
<circle cx="2047" cy="712.8" r="0.9" fill="#fff"/>
<path d="M2085.4,711.3 Q2089,720.8 2092.6,711.3 Z" fill="#000"/>
<circle cx="2089" cy="712.8" r="0.9" fill="#fff"/>
<path d="M2144.8,711.3 Q2148.4,720.8 2152,711.3 Z" fill="#000"/>
<circle cx="2148.4" cy="712.8" r="0.9" fill="#fff"/>
<polygon points="300,841.4 306,841.4 303,844.4" fill="#fff" stroke="#000" stroke-width="2.2" stroke-linejoin="round"/>
<polygon points="311.4,840.4 317.6,840.4 314.5,856.4" fill="#000"/>
<polygon points="313.2,841.7 315.8,841.7 314.5,847.7" fill="#fff"/>
<path d="M587.8,840.9 Q591.4,850.4 595,840.9 Z" fill="#000"/>
<circle cx="591.4" cy="842.4" r="0.9" fill="#fff"/>
<path d="M655.4,840.9 Q659,850.4 662.6,840.9 Z" fill="#000"/>
<circle cx="659" cy="842.4" r="0.9" fill="#fff"/>
<polygon points="732.9,840.4 739.1,840.4 736,846.4" fill="#000"/>
<path d="M745.1,840.9 Q748.7,850.4 752.3,840.9 Z" fill="#000"/>
<circle cx="748.7" cy="842.4" r="0.9" fill="#fff"/>
<path d="M754.4,840.9 Q758,850.4 761.6,840.9 Z" fill="#000"/>
<circle cx="758" cy="842.4" r="0.9" fill="#fff"/>
<polygon points="889.9,840.4 896.1,840.4 893,847.4" fill="#000"/>
<polygon points="937.3,840.4 943.5,840.4 940.4,847.4" fill="#000"/>
<polygon points="1049.9,840.4 1056.1,840.4 1053,847.4" fill="#000"/>
<polygon points="1059.9,840.4 1066.1,840.4 1063,847.4" fill="#000"/>
<polygon points="1096.9,840.4 1103.1,840.4 1100,847.4" fill="#000"/>
<polygon points="1259.9,840.4 1266.1,840.4 1263,851.4" fill="#000"/>
<polygon points="1261.7,841.7 1264.3,841.7 1263,845.6" fill="#fff"/>
<path d="M1281.2,840.9 Q1284.8,850.4 1288.4,840.9 Z" fill="#000"/>
<circle cx="1284.8" cy="842.4" r="0.9" fill="#fff"/>
<path d="M1370.8,840.9 Q1374.4,850.4 1378,840.9 Z" fill="#000"/>
<circle cx="1374.4" cy="842.4" r="0.9" fill="#fff"/>
<path d="M1423.4,840.9 Q1427,850.4 1430.6,840.9 Z" fill="#000"/>
<circle cx="1427" cy="842.4" r="0.9" fill="#fff"/>
<polygon points="1482.9,840.4 1489.1,840.4 1486,848.4" fill="#000"/>
<path d="M1487.4,840.9 Q1491,850.4 1494.6,840.9 Z" fill="#000"/>
<circle cx="1491" cy="842.4" r="0.9" fill="#fff"/>
<polygon points="1691.9,840.4 1698.1,840.4 1695,857.4" fill="#000"/>
<polygon points="1693.7,841.7 1696.3,841.7 1695,848.12" fill="#fff"/>
<polygon points="1704.5,840.4 1710.7,840.4 1707.6,852.4" fill="#000"/>
<polygon points="1706.3,841.7 1708.9,841.7 1707.6,846.02" fill="#fff"/>
<polygon points="1765,841.4 1775,841.4 1770,859.4" fill="#fff" stroke="#000" stroke-width="2.2" stroke-linejoin="round"/>
<polygon points="1782.2,841.4 1790.2,841.4 1786.2,851.4" fill="#fff" stroke="#000" stroke-width="2.2" stroke-linejoin="round"/>
<polygon points="1860.9,840.4 1867.1,840.4 1864,848.4" fill="#000"/>
<path d="M1876.4,840.9 Q1880,850.4 1883.6,840.9 Z" fill="#000"/>
<circle cx="1880" cy="842.4" r="0.9" fill="#fff"/>
<polygon points="1888.7,840.4 1894.9,840.4 1891.8,856.4" fill="#000"/>
<polygon points="1890.5,841.7 1893.1,841.7 1891.8,847.7" fill="#fff"/>
<path d="M2061.4,840.9 Q2065,850.4 2068.6,840.9 Z" fill="#000"/>
<circle cx="2065" cy="842.4" r="0.9" fill="#fff"/>
<path d="M2085.4,840.9 Q2089,850.4 2092.6,840.9 Z" fill="#000"/>
<circle cx="2089" cy="842.4" r="0.9" fill="#fff"/>
<path d="M2144.8,840.9 Q2148.4,850.4 2152,840.9 Z" fill="#000"/>
<circle cx="2148.4" cy="842.4" r="0.9" fill="#fff"/>
<polygon points="309.3,884.6 317.3,884.6 313.3,898.6" fill="#fff" stroke="#000" stroke-width="2.2" stroke-linejoin="round"/>
<path d="M323.4,884.1 Q327,893.6 330.6,884.1 Z" fill="#000"/>
<circle cx="327" cy="885.6" r="0.9" fill="#fff"/>
<path d="M587.8,884.1 Q591.4,893.6 595,884.1 Z" fill="#000"/>
<circle cx="591.4" cy="885.6" r="0.9" fill="#fff"/>
<path d="M618.8,884.1 Q622.4,893.6 626,884.1 Z" fill="#000"/>
<circle cx="622.4" cy="885.6" r="0.9" fill="#fff"/>
<path d="M662.4,884.1 Q666,893.6 669.6,884.1 Z" fill="#000"/>
<circle cx="666" cy="885.6" r="0.9" fill="#fff"/>
<path d="M745.1,884.1 Q748.7,893.6 752.3,884.1 Z" fill="#000"/>
<circle cx="748.7" cy="885.6" r="0.9" fill="#fff"/>
<polygon points="859.2,883.6 865.4,883.6 862.3,890.6" fill="#000"/>
<path d="M924.1,884.1 Q927.7,893.6 931.3,884.1 Z" fill="#000"/>
<circle cx="927.7" cy="885.6" r="0.9" fill="#fff"/>
<path d="M948.3,884.1 Q951.9,893.6 955.5,884.1 Z" fill="#000"/>
<circle cx="951.9" cy="885.6" r="0.9" fill="#fff"/>
<path d="M1021.4,884.1 Q1025,893.6 1028.6,884.1 Z" fill="#000"/>
<circle cx="1025" cy="885.6" r="0.9" fill="#fff"/>
<polygon points="1054.9,884.6 1064.9,884.6 1059.9,892.6" fill="#fff" stroke="#000" stroke-width="2.2" stroke-linejoin="round"/>
<polygon points="1096.9,883.6 1103.1,883.6 1100,890.6" fill="#000"/>
<polygon points="1115.4,883.6 1121.6,883.6 1118.5,899.6" fill="#000"/>
<polygon points="1117.2,884.9 1119.8,884.9 1118.5,890.9" fill="#fff"/>
<path d="M1150.4,884.1 Q1154,893.6 1157.6,884.1 Z" fill="#000"/>
<circle cx="1154" cy="885.6" r="0.9" fill="#fff"/>
<path d="M1257.1,884.1 Q1260.7,893.6 1264.3,884.1 Z" fill="#000"/>
<circle cx="1260.7" cy="885.6" r="0.9" fill="#fff"/>
<path d="M1334.1,884.1 Q1337.7,893.6 1341.3,884.1 Z" fill="#000"/>
<circle cx="1337.7" cy="885.6" r="0.9" fill="#fff"/>
<path d="M1363.9,884.1 Q1367.5,893.6 1371.1,884.1 Z" fill="#000"/>
<circle cx="1367.5" cy="885.6" r="0.9" fill="#fff"/>
<path d="M1385.8,884.1 Q1389.4,893.6 1393,884.1 Z" fill="#000"/>
<circle cx="1389.4" cy="885.6" r="0.9" fill="#fff"/>
<path d="M1488,884.1 Q1491.6,893.6 1495.2,884.1 Z" fill="#000"/>
<circle cx="1491.6" cy="885.6" r="0.9" fill="#fff"/>
<path d="M1497.2,884.1 Q1500.8,893.6 1504.4,884.1 Z" fill="#000"/>
<circle cx="1500.8" cy="885.6" r="0.9" fill="#fff"/>
<polygon points="1512.6,883.6 1518.8,883.6 1515.7,890.6" fill="#000"/>
<path d="M1558.4,884.1 Q1562,893.6 1565.6,884.1 Z" fill="#000"/>
<circle cx="1562" cy="885.6" r="0.9" fill="#fff"/>
<path d="M1570.4,884.1 Q1574,893.6 1577.6,884.1 Z" fill="#000"/>
<circle cx="1574" cy="885.6" r="0.9" fill="#fff"/>
<path d="M1692.4,884.1 Q1696,893.6 1699.6,884.1 Z" fill="#000"/>
<circle cx="1696" cy="885.6" r="0.9" fill="#fff"/>
<polygon points="1710.2,883.6 1716.4,883.6 1713.3,890.6" fill="#000"/>
<polygon points="1782.2,884.6 1790.2,884.6 1786.2,896.6" fill="#fff" stroke="#000" stroke-width="2.2" stroke-linejoin="round"/>
<path d="M1802.4,884.1 Q1806,893.6 1809.6,884.1 Z" fill="#000"/>
<circle cx="1806" cy="885.6" r="0.9" fill="#fff"/>
<path d="M1841.4,884.1 Q1845,893.6 1848.6,884.1 Z" fill="#000"/>
<circle cx="1845" cy="885.6" r="0.9" fill="#fff"/>
<path d="M1876.4,884.1 Q1880,893.6 1883.6,884.1 Z" fill="#000"/>
<circle cx="1880" cy="885.6" r="0.9" fill="#fff"/>
<polygon points="1888.7,883.6 1894.9,883.6 1891.8,901.6" fill="#000"/>
<polygon points="1890.5,884.9 1893.1,884.9 1891.8,891.74" fill="#fff"/>
<path d="M1998.4,884.1 Q2002,893.6 2005.6,884.1 Z" fill="#000"/>
<circle cx="2002" cy="885.6" r="0.9" fill="#fff"/>
<path d="M2036.4,884.1 Q2040,893.6 2043.6,884.1 Z" fill="#000"/>
<circle cx="2040" cy="885.6" r="0.9" fill="#fff"/>
<path d="M2051.4,884.1 Q2055,893.6 2058.6,884.1 Z" fill="#000"/>
<circle cx="2055" cy="885.6" r="0.9" fill="#fff"/>
<path d="M2062.4,884.1 Q2066,893.6 2069.6,884.1 Z" fill="#000"/>
<circle cx="2066" cy="885.6" r="0.9" fill="#fff"/>
<polygon points="2088.4,883.6 2094.6,883.6 2091.5,890.6" fill="#000"/>
<polygon points="2104.6,883.6 2110.8,883.6 2107.7,901.6" fill="#000"/>
<polygon points="2106.4,884.9 2109,884.9 2107.7,891.74" fill="#fff"/>
<polygon points="2145.3,883.6 2151.5,883.6 2148.4,890.6" fill="#000"/>
<rect x="281.4" y="620.3" width="1923.7" height="301.3" fill="none" stroke="#000" stroke-width="5.8"/>
<text class="pc" transform="translate(2210.5,638.8) scale(0.865,1)">100%</text>
<text class="pc" transform="translate(2209.8,660.4) scale(0.865,1)">50%</text>
<text class="pc" transform="translate(2210.5,682) scale(0.865,1)">100%</text>
<text class="pc" transform="translate(2209.8,703.6) scale(0.865,1)">50%</text>
<text class="pc" transform="translate(2210.5,725.2) scale(0.865,1)">100%</text>
<text class="pc" transform="translate(2209.8,746.8) scale(0.865,1)">50%</text>
<text class="pc" transform="translate(2210.5,768.4) scale(0.865,1)">100%</text>
<text class="pc" transform="translate(2209.8,790) scale(0.865,1)">50%</text>
<text class="pc" transform="translate(2210.5,811.6) scale(0.865,1)">100%</text>
<text class="pc" transform="translate(2209.8,833.2) scale(0.865,1)">50%</text>
<text class="pc" transform="translate(2210.5,854.8) scale(0.865,1)">100%</text>
<text class="pc" transform="translate(2209.8,876.4) scale(0.865,1)">50%</text>
<text class="pc" transform="translate(2210.5,898) scale(0.865,1)">100%</text>
<text class="pc" transform="translate(2209.8,919.6) scale(0.865,1)">50%</text>
<rect x="285.5" y="1074" width="35.5" height="26.9" fill="#8888ff"/>
<rect x="327.7" y="1074" width="17.2" height="26.9" fill="#8888ff"/>
<rect x="348.7" y="1074" width="15.3" height="26.9" fill="#8888ff"/>
<rect x="367.9" y="1074" width="3.8" height="26.9" fill="#8888ff"/>
<rect x="408" y="1074" width="36.5" height="26.9" fill="#8888ff"/>
<rect x="451.2" y="1074" width="1.8" height="26.9" fill="#8888ff"/>
<rect x="488.5" y="1074" width="26.8" height="26.9" fill="#8888ff"/>
<rect x="522" y="1074" width="55.5" height="26.9" fill="#8888ff"/>
<rect x="581.4" y="1074" width="32.6" height="26.9" fill="#8888ff"/>
<rect x="615.8" y="1074" width="17.2" height="26.9" fill="#8888ff"/>
<rect x="636" y="1074" width="24.8" height="26.9" fill="#8888ff"/>
<rect x="667.5" y="1074" width="23" height="26.9" fill="#8888ff"/>
<rect x="694.4" y="1074" width="24.8" height="26.9" fill="#8888ff"/>
<rect x="765.2" y="1074" width="3.8" height="26.9" fill="#8888ff"/>
<rect x="806.4" y="1074" width="72.7" height="26.9" fill="#8888ff"/>
<rect x="910.7" y="1074" width="36.4" height="26.9" fill="#8888ff"/>
<rect x="952.9" y="1074" width="5.7" height="26.9" fill="#8888ff"/>
<rect x="963.4" y="1074" width="325.5" height="26.9" fill="#8888ff"/>
<rect x="1348.3" y="1074" width="5.7" height="26.9" fill="#8888ff"/>
<rect x="1381.8" y="1074" width="40.2" height="26.9" fill="#8888ff"/>
<rect x="1457.4" y="1074" width="41.2" height="26.9" fill="#8888ff"/>
<rect x="1511" y="1074" width="30.7" height="26.9" fill="#8888ff"/>
<rect x="1566.6" y="1074" width="15.3" height="26.9" fill="#8888ff"/>
<rect x="1628.8" y="1074" width="14.4" height="26.9" fill="#8888ff"/>
<rect x="1668" y="1074" width="6.8" height="26.9" fill="#8888ff"/>
<rect x="1777.2" y="1074" width="5.8" height="26.9" fill="#8888ff"/>
<rect x="1829.9" y="1074" width="7.6" height="26.9" fill="#8888ff"/>
<rect x="1878.7" y="1074" width="5.8" height="26.9" fill="#8888ff"/>
<rect x="2078.3" y="1074" width="5.6" height="26.9" fill="#8888ff"/>
<rect x="2112.7" y="1074" width="5.5" height="26.9" fill="#8888ff"/>
<rect x="2131.2" y="1074" width="70.6" height="26.9" fill="#8888ff"/>
<rect x="1887.3" y="1074" width="147.5" height="26.9" fill="#66efef"/>
<rect x="2038.4" y="1074" width="9.3" height="26.9" fill="#66efef"/>
<rect x="2057" y="1074" width="8.3" height="26.9" fill="#66efef"/>
<rect x="284.3" y="1100.4" width="1918.2" height="306.1" fill="#ff8888"/>
<rect x="285.5" y="1100.4" width="35.5" height="306.1" fill="#8888ff"/>
<rect x="327.7" y="1100.4" width="17.2" height="306.1" fill="#8888ff"/>
<rect x="348.7" y="1100.4" width="15.3" height="306.1" fill="#8888ff"/>
<rect x="367.9" y="1100.4" width="3.8" height="306.1" fill="#8888ff"/>
<rect x="408" y="1100.4" width="36.5" height="306.1" fill="#8888ff"/>
<rect x="451.2" y="1100.4" width="1.8" height="306.1" fill="#8888ff"/>
<rect x="488.5" y="1100.4" width="26.8" height="306.1" fill="#8888ff"/>
<rect x="522" y="1100.4" width="55.5" height="306.1" fill="#8888ff"/>
<rect x="581.4" y="1100.4" width="32.6" height="306.1" fill="#8888ff"/>
<rect x="615.8" y="1100.4" width="17.2" height="306.1" fill="#8888ff"/>
<rect x="636" y="1100.4" width="24.8" height="306.1" fill="#8888ff"/>
<rect x="667.5" y="1100.4" width="23" height="306.1" fill="#8888ff"/>
<rect x="694.4" y="1100.4" width="24.8" height="306.1" fill="#8888ff"/>
<rect x="765.2" y="1100.4" width="3.8" height="306.1" fill="#8888ff"/>
<rect x="806.4" y="1100.4" width="72.7" height="306.1" fill="#8888ff"/>
<rect x="910.7" y="1100.4" width="36.4" height="306.1" fill="#8888ff"/>
<rect x="952.9" y="1100.4" width="5.7" height="306.1" fill="#8888ff"/>
<rect x="963.4" y="1100.4" width="325.5" height="306.1" fill="#8888ff"/>
<rect x="1348.3" y="1100.4" width="5.7" height="306.1" fill="#8888ff"/>
<rect x="1381.8" y="1100.4" width="40.2" height="306.1" fill="#8888ff"/>
<rect x="1457.4" y="1100.4" width="41.2" height="306.1" fill="#8888ff"/>
<rect x="1511" y="1100.4" width="30.7" height="306.1" fill="#8888ff"/>
<rect x="1566.6" y="1100.4" width="15.3" height="306.1" fill="#8888ff"/>
<rect x="1628.8" y="1100.4" width="14.4" height="306.1" fill="#8888ff"/>
<rect x="1668" y="1100.4" width="6.8" height="306.1" fill="#8888ff"/>
<rect x="1777.2" y="1100.4" width="5.8" height="306.1" fill="#8888ff"/>
<rect x="1829.9" y="1100.4" width="7.6" height="306.1" fill="#8888ff"/>
<rect x="1878.7" y="1100.4" width="5.8" height="306.1" fill="#8888ff"/>
<rect x="2078.3" y="1100.4" width="5.6" height="306.1" fill="#8888ff"/>
<rect x="2112.7" y="1100.4" width="5.5" height="306.1" fill="#8888ff"/>
<rect x="2131.2" y="1100.4" width="70.6" height="306.1" fill="#8888ff"/>
<rect x="1887.3" y="1100.4" width="147.5" height="306.1" fill="#66efef"/>
<rect x="2038.4" y="1100.4" width="9.3" height="306.1" fill="#66efef"/>
<rect x="2057" y="1100.4" width="8.3" height="306.1" fill="#66efef"/>
<rect x="284.3" y="1129.4" width="1918.2" height="13.6" fill="#c8c8c8" opacity="0.55"/>
<rect x="284.3" y="1130.9" width="1918.2" height="8" fill="#c8c8c8"/>
<rect x="284.3" y="1172.43" width="1918.2" height="13.6" fill="#c8c8c8" opacity="0.55"/>
<rect x="284.3" y="1173.93" width="1918.2" height="8" fill="#c8c8c8"/>
<rect x="284.3" y="1215.46" width="1918.2" height="13.6" fill="#c8c8c8" opacity="0.55"/>
<rect x="284.3" y="1216.96" width="1918.2" height="8" fill="#c8c8c8"/>
<polygon points="1866,1212.96 1846,1220.96 1866,1228.96" fill="#d2d2d2"/>
<rect x="284.3" y="1258.49" width="1918.2" height="13.6" fill="#c8c8c8" opacity="0.55"/>
<rect x="284.3" y="1259.99" width="1918.2" height="8" fill="#c8c8c8"/>
<polygon points="2180.5,1255.99 2201.5,1263.99 2180.5,1271.99" fill="#cecece"/>
<rect x="284.3" y="1301.52" width="1918.2" height="13.6" fill="#c8c8c8" opacity="0.55"/>
<rect x="284.3" y="1303.02" width="1918.2" height="8" fill="#c8c8c8"/>
<polygon points="2180.5,1299.02 2201.5,1307.02 2180.5,1315.02" fill="#cecece"/>
<rect x="284.3" y="1344.55" width="1918.2" height="13.6" fill="#c8c8c8" opacity="0.55"/>
<rect x="284.3" y="1346.05" width="1918.2" height="8" fill="#c8c8c8"/>
<polygon points="2180.5,1342.05 2201.5,1350.05 2180.5,1358.05" fill="#cecece"/>
<polygon points="480,1342.55 500,1350.05 480,1357.55" fill="#c8c8c8"/>
<polygon points="1866,1342.05 1846,1350.05 1866,1358.05" fill="#d2d2d2"/>
<polygon points="2094,1342.05 2074,1350.05 2094,1358.05" fill="#d2d2d2"/>
<rect x="284.3" y="1387.58" width="1918.2" height="13.6" fill="#c8c8c8" opacity="0.55"/>
<rect x="284.3" y="1389.08" width="1918.2" height="8" fill="#c8c8c8"/>
<polygon points="1090,1385.58 1110,1393.08 1090,1400.58" fill="#c8c8c8"/>
<line x1="578.8" y1="1074" x2="578.8" y2="1406.5" stroke="#fff" stroke-width="1.7" stroke-dasharray="12 3"/>
<line x1="614.9" y1="1074" x2="614.9" y2="1406.5" stroke="#fff" stroke-width="1.7" stroke-dasharray="12 3"/>
<line x1="961" y1="1074" x2="961" y2="1406.5" stroke="#fff" stroke-width="1.7" stroke-dasharray="12 3"/>
<line x1="2036.7" y1="1074" x2="2036.7" y2="1406.5" stroke="#fff" stroke-width="1.7" stroke-dasharray="12 3"/>
<rect x="284.3" y="1100.4" width="1918.2" height="8.2" fill="#000"/>
<rect x="284.3" y="1141.93" width="1918.2" height="6.5" fill="#ffffff"/>
<rect x="284.3" y="1148.43" width="1918.2" height="3.2" fill="#000"/>
<rect x="284.3" y="1186.46" width="1918.2" height="8.2" fill="#000"/>
<rect x="284.3" y="1229.49" width="1918.2" height="8.2" fill="#000"/>
<rect x="284.3" y="1272.52" width="1918.2" height="8.2" fill="#000"/>
<rect x="284.3" y="1315.55" width="1918.2" height="8.2" fill="#000"/>
<rect x="284.3" y="1358.58" width="1918.2" height="8.2" fill="#000"/>
<path d="M347.6,1107.9 Q351.2,1117.4 354.8,1107.9 Z" fill="#000"/>
<circle cx="351.2" cy="1109.4" r="0.9" fill="#fff"/>
<polygon points="378.9,1108.4 387.9,1108.4 383.4,1126.4" fill="#fff" stroke="#000" stroke-width="2.2" stroke-linejoin="round"/>
<polygon points="441.2,1107.4 447.4,1107.4 444.3,1114.4" fill="#000"/>
<path d="M457.9,1107.9 Q461.5,1117.4 465.1,1107.9 Z" fill="#000"/>
<circle cx="461.5" cy="1109.4" r="0.9" fill="#fff"/>
<path d="M615.4,1107.9 Q619,1117.4 622.6,1107.9 Z" fill="#000"/>
<circle cx="619" cy="1109.4" r="0.9" fill="#fff"/>
<path d="M659,1107.9 Q662.6,1117.4 666.2,1107.9 Z" fill="#000"/>
<circle cx="662.6" cy="1109.4" r="0.9" fill="#fff"/>
<polygon points="723.9,1107.4 730.1,1107.4 727,1118.4" fill="#000"/>
<polygon points="725.7,1108.7 728.3,1108.7 727,1112.6" fill="#fff"/>
<polygon points="763.8,1107.4 770,1107.4 766.9,1124.4" fill="#000"/>
<polygon points="765.6,1108.7 768.2,1108.7 766.9,1115.12" fill="#fff"/>
<path d="M849.4,1107.9 Q853,1117.4 856.6,1107.9 Z" fill="#000"/>
<circle cx="853" cy="1109.4" r="0.9" fill="#fff"/>
<path d="M889.4,1107.9 Q893,1117.4 896.6,1107.9 Z" fill="#000"/>
<circle cx="893" cy="1109.4" r="0.9" fill="#fff"/>
<path d="M920.7,1107.9 Q924.3,1117.4 927.9,1107.9 Z" fill="#000"/>
<circle cx="924.3" cy="1109.4" r="0.9" fill="#fff"/>
<path d="M1074.4,1107.9 Q1078,1117.4 1081.6,1107.9 Z" fill="#000"/>
<circle cx="1078" cy="1109.4" r="0.9" fill="#fff"/>
<path d="M1091.9,1107.9 Q1095.5,1117.4 1099.1,1107.9 Z" fill="#000"/>
<circle cx="1095.5" cy="1109.4" r="0.9" fill="#fff"/>
<path d="M1114.9,1107.9 Q1118.5,1117.4 1122.1,1107.9 Z" fill="#000"/>
<circle cx="1118.5" cy="1109.4" r="0.9" fill="#fff"/>
<path d="M1153.9,1107.9 Q1157.5,1117.4 1161.1,1107.9 Z" fill="#000"/>
<circle cx="1157.5" cy="1109.4" r="0.9" fill="#fff"/>
<polygon points="1288,1108.4 1333,1108.4 1330,1141.4 1291,1141.4" fill="#fff" stroke="#000" stroke-width="2.4" stroke-linejoin="round"/>
<rect x="1291.25" y="1130.9" width="38.51" height="8" fill="#c8c8c8" opacity="0.6"/>
<line x1="1289.73" y1="1127.4" x2="1331.27" y2="1127.4" stroke="#000" stroke-width="2.6"/>
<path d="M1339.8,1107.9 Q1343.4,1117.4 1347,1107.9 Z" fill="#000"/>
<circle cx="1343.4" cy="1109.4" r="0.9" fill="#fff"/>
<polygon points="1367.9,1107.4 1374.1,1107.4 1371,1114.4" fill="#000"/>
<path d="M1598.4,1107.9 Q1602,1117.4 1605.6,1107.9 Z" fill="#000"/>
<circle cx="1602" cy="1109.4" r="0.9" fill="#fff"/>
<polygon points="1629.9,1107.4 1636.1,1107.4 1633,1128.4" fill="#000"/>
<polygon points="1631.7,1108.7 1634.3,1108.7 1633,1116.4" fill="#fff"/>
<polygon points="1653.9,1107.4 1660.1,1107.4 1657,1123.4" fill="#000"/>
<polygon points="1655.7,1108.7 1658.3,1108.7 1657,1114.7" fill="#fff"/>
<path d="M1761.7,1107.9 Q1765.3,1117.4 1768.9,1107.9 Z" fill="#000"/>
<circle cx="1765.3" cy="1109.4" r="0.9" fill="#fff"/>
<polygon points="1805.1,1107.4 1811.3,1107.4 1808.2,1123.4" fill="#000"/>
<polygon points="1806.9,1108.7 1809.5,1108.7 1808.2,1114.7" fill="#fff"/>
<path d="M1863.8,1107.9 Q1867.4,1117.4 1871,1107.9 Z" fill="#000"/>
<circle cx="1867.4" cy="1109.4" r="0.9" fill="#fff"/>
<polygon points="2063.9,1107.4 2070.1,1107.4 2067,1119.4" fill="#000"/>
<polygon points="2065.7,1108.7 2068.3,1108.7 2067,1113.02" fill="#fff"/>
<polygon points="348.2,1151.43 354.2,1151.43 351.2,1154.43" fill="#fff" stroke="#000" stroke-width="2.2" stroke-linejoin="round"/>
<path d="M470.4,1150.93 Q474,1160.43 477.6,1150.93 Z" fill="#000"/>
<circle cx="474" cy="1152.43" r="0.9" fill="#fff"/>
<path d="M659,1150.93 Q662.6,1160.43 666.2,1150.93 Z" fill="#000"/>
<circle cx="662.6" cy="1152.43" r="0.9" fill="#fff"/>
<polygon points="722.7,1150.43 728.9,1150.43 725.8,1158.43" fill="#000"/>
<path d="M745.4,1150.93 Q749,1160.43 752.6,1150.93 Z" fill="#000"/>
<circle cx="749" cy="1152.43" r="0.9" fill="#fff"/>
<polygon points="763.8,1150.43 770,1150.43 766.9,1167.43" fill="#000"/>
<polygon points="765.6,1151.73 768.2,1151.73 766.9,1158.15" fill="#fff"/>
<path d="M948.3,1150.93 Q951.9,1160.43 955.5,1150.93 Z" fill="#000"/>
<circle cx="951.9" cy="1152.43" r="0.9" fill="#fff"/>
<polygon points="1049.9,1150.43 1056.1,1150.43 1053,1162.43" fill="#000"/>
<polygon points="1051.7,1151.73 1054.3,1151.73 1053,1156.05" fill="#fff"/>
<polygon points="1076.7,1151.43 1086.7,1151.43 1081.7,1154.43" fill="#fff" stroke="#000" stroke-width="2.2" stroke-linejoin="round"/>
<path d="M1124,1150.93 Q1127.6,1160.43 1131.2,1150.93 Z" fill="#000"/>
<circle cx="1127.6" cy="1152.43" r="0.9" fill="#fff"/>
<polygon points="1192.3,1150.43 1198.5,1150.43 1195.4,1171.43" fill="#000"/>
<polygon points="1194.1,1151.73 1196.7,1151.73 1195.4,1159.43" fill="#fff"/>
<polygon points="1278.4,1150.43 1284.4,1150.43 1281.4,1171.43" fill="#000"/>
<polygon points="1280.1,1151.73 1282.7,1151.73 1281.4,1159.43" fill="#fff"/>
<polygon points="1290,1150.43 1296,1150.43 1293,1159.43" fill="#000"/>
<polygon points="1291.7,1151.73 1294.3,1151.73 1293,1154.79" fill="#fff"/>
<polygon points="1300,1150.43 1306,1150.43 1303,1161.43" fill="#000"/>
<polygon points="1301.7,1151.73 1304.3,1151.73 1303,1155.63" fill="#fff"/>
<polygon points="1310.7,1151.43 1318.7,1151.43 1314.7,1171.43" fill="#fff" stroke="#000" stroke-width="2.2" stroke-linejoin="round"/>
<polygon points="1324,1150.43 1330,1150.43 1327,1161.43" fill="#000"/>
<polygon points="1325.7,1151.73 1328.3,1151.73 1327,1155.63" fill="#fff"/>
<polygon points="1629.9,1150.43 1636.1,1150.43 1633,1171.43" fill="#000"/>
<polygon points="1631.7,1151.73 1634.3,1151.73 1633,1159.43" fill="#fff"/>
<polygon points="1653.9,1150.43 1660.1,1150.43 1657,1166.43" fill="#000"/>
<polygon points="1655.7,1151.73 1658.3,1151.73 1657,1157.73" fill="#fff"/>
<path d="M347.6,1193.96 Q351.2,1203.46 354.8,1193.96 Z" fill="#000"/>
<circle cx="351.2" cy="1195.46" r="0.9" fill="#fff"/>
<polygon points="403.3,1193.46 409.5,1193.46 406.4,1201.46" fill="#000"/>
<path d="M470.4,1193.96 Q474,1203.46 477.6,1193.96 Z" fill="#000"/>
<circle cx="474" cy="1195.46" r="0.9" fill="#fff"/>
<path d="M520,1193.96 Q523.6,1203.46 527.2,1193.96 Z" fill="#000"/>
<circle cx="523.6" cy="1195.46" r="0.9" fill="#fff"/>
<path d="M659,1193.96 Q662.6,1203.46 666.2,1193.96 Z" fill="#000"/>
<circle cx="662.6" cy="1195.46" r="0.9" fill="#fff"/>
<path d="M719.4,1193.96 Q723,1203.46 726.6,1193.96 Z" fill="#000"/>
<circle cx="723" cy="1195.46" r="0.9" fill="#fff"/>
<polygon points="763.8,1193.46 770,1193.46 766.9,1210.46" fill="#000"/>
<polygon points="765.6,1194.76 768.2,1194.76 766.9,1201.18" fill="#fff"/>
<path d="M1074.4,1193.96 Q1078,1203.46 1081.6,1193.96 Z" fill="#000"/>
<circle cx="1078" cy="1195.46" r="0.9" fill="#fff"/>
<polygon points="1195.8,1193.46 1202,1193.46 1198.9,1208.46" fill="#000"/>
<polygon points="1197.6,1194.76 1200.2,1194.76 1198.9,1200.34" fill="#fff"/>
<polygon points="1288,1194.46 1333,1194.46 1330,1227.46 1291,1227.46" fill="#fff" stroke="#000" stroke-width="2.4" stroke-linejoin="round"/>
<rect x="1291.25" y="1216.96" width="38.51" height="8" fill="#c8c8c8" opacity="0.6"/>
<line x1="1289.55" y1="1211.46" x2="1331.45" y2="1211.46" stroke="#000" stroke-width="2.6"/>
<path d="M1339.8,1193.96 Q1343.4,1203.46 1347,1193.96 Z" fill="#000"/>
<circle cx="1343.4" cy="1195.46" r="0.9" fill="#fff"/>
<path d="M1598.4,1193.96 Q1602,1203.46 1605.6,1193.96 Z" fill="#000"/>
<circle cx="1602" cy="1195.46" r="0.9" fill="#fff"/>
<polygon points="1629.9,1193.46 1636.1,1193.46 1633,1214.46" fill="#000"/>
<polygon points="1631.7,1194.76 1634.3,1194.76 1633,1202.46" fill="#fff"/>
<polygon points="1653.9,1193.46 1660.1,1193.46 1657,1208.46" fill="#000"/>
<polygon points="1655.7,1194.76 1658.3,1194.76 1657,1200.34" fill="#fff"/>
<polygon points="1805.1,1193.46 1811.3,1193.46 1808.2,1209.46" fill="#000"/>
<polygon points="1806.9,1194.76 1809.5,1194.76 1808.2,1200.76" fill="#fff"/>
<path d="M1863.8,1193.96 Q1867.4,1203.46 1871,1193.96 Z" fill="#000"/>
<circle cx="1867.4" cy="1195.46" r="0.9" fill="#fff"/>
<polygon points="2063.9,1193.46 2070.1,1193.46 2067,1205.46" fill="#000"/>
<polygon points="2065.7,1194.76 2068.3,1194.76 2067,1199.08" fill="#fff"/>
<path d="M2107.6,1193.96 Q2111.2,1203.46 2114.8,1193.96 Z" fill="#000"/>
<circle cx="2111.2" cy="1195.46" r="0.9" fill="#fff"/>
<polygon points="1330.9,1279.52 1337.1,1279.52 1334,1286.52" fill="#000"/>
<path d="M347.6,1323.05 Q351.2,1332.55 354.8,1323.05 Z" fill="#000"/>
<circle cx="351.2" cy="1324.55" r="0.9" fill="#fff"/>
<path d="M370.4,1323.05 Q374,1332.55 377.6,1323.05 Z" fill="#000"/>
<circle cx="374" cy="1324.55" r="0.9" fill="#fff"/>
<path d="M443,1323.05 Q446.6,1332.55 450.2,1323.05 Z" fill="#000"/>
<circle cx="446.6" cy="1324.55" r="0.9" fill="#fff"/>
<path d="M470.4,1323.05 Q474,1332.55 477.6,1323.05 Z" fill="#000"/>
<circle cx="474" cy="1324.55" r="0.9" fill="#fff"/>
<polygon points="516.5,1323.55 523.5,1323.55 520,1343.55" fill="#fff" stroke="#000" stroke-width="2.2" stroke-linejoin="round"/>
<path d="M659,1323.05 Q662.6,1332.55 666.2,1323.05 Z" fill="#000"/>
<circle cx="662.6" cy="1324.55" r="0.9" fill="#fff"/>
<path d="M720.4,1323.05 Q724,1332.55 727.6,1323.05 Z" fill="#000"/>
<circle cx="724" cy="1324.55" r="0.9" fill="#fff"/>
<path d="M735.4,1323.05 Q739,1332.55 742.6,1323.05 Z" fill="#000"/>
<circle cx="739" cy="1324.55" r="0.9" fill="#fff"/>
<polygon points="763.8,1322.55 770,1322.55 766.9,1339.55" fill="#000"/>
<polygon points="765.6,1323.85 768.2,1323.85 766.9,1330.27" fill="#fff"/>
<path d="M788.4,1323.05 Q792,1332.55 795.6,1323.05 Z" fill="#000"/>
<circle cx="792" cy="1324.55" r="0.9" fill="#fff"/>
<path d="M1052.8,1323.05 Q1056.4,1332.55 1060,1323.05 Z" fill="#000"/>
<circle cx="1056.4" cy="1324.55" r="0.9" fill="#fff"/>
<path d="M1074.4,1323.05 Q1078,1332.55 1081.6,1323.05 Z" fill="#000"/>
<circle cx="1078" cy="1324.55" r="0.9" fill="#fff"/>
<path d="M1080.4,1323.05 Q1084,1332.55 1087.6,1323.05 Z" fill="#000"/>
<circle cx="1084" cy="1324.55" r="0.9" fill="#fff"/>
<polygon points="1090.5,1323.55 1100.5,1323.55 1095.5,1343.55" fill="#fff" stroke="#000" stroke-width="2.2" stroke-linejoin="round"/>
<polygon points="1195.8,1322.55 1202,1322.55 1198.9,1343.55" fill="#000"/>
<polygon points="1197.6,1323.85 1200.2,1323.85 1198.9,1331.55" fill="#fff"/>
<polygon points="1288,1323.55 1333,1323.55 1330,1356.55 1291,1356.55" fill="#fff" stroke="#000" stroke-width="2.4" stroke-linejoin="round"/>
<rect x="1291.25" y="1346.05" width="38.51" height="8" fill="#c8c8c8" opacity="0.6"/>
<line x1="1289.27" y1="1337.55" x2="1331.73" y2="1337.55" stroke="#000" stroke-width="2.6"/>
<polygon points="1598.9,1322.55 1605.1,1322.55 1602,1329.55" fill="#000"/>
<polygon points="1629.9,1322.55 1636.1,1322.55 1633,1341.55" fill="#000"/>
<polygon points="1631.7,1323.85 1634.3,1323.85 1633,1331.11" fill="#fff"/>
<polygon points="1653,1323.55 1661,1323.55 1657,1341.55" fill="#fff" stroke="#000" stroke-width="2.2" stroke-linejoin="round"/>
<path d="M1938.1,1323.05 Q1941.7,1332.55 1945.3,1323.05 Z" fill="#000"/>
<circle cx="1941.7" cy="1324.55" r="0.9" fill="#fff"/>
<polygon points="1805.1,1322.55 1811.3,1322.55 1808.2,1339.55" fill="#000"/>
<polygon points="1806.9,1323.85 1809.5,1323.85 1808.2,1330.27" fill="#fff"/>
<path d="M316.4,1366.08 Q320,1375.58 323.6,1366.08 Z" fill="#000"/>
<circle cx="320" cy="1367.58" r="0.9" fill="#fff"/>
<path d="M347.6,1366.08 Q351.2,1375.58 354.8,1366.08 Z" fill="#000"/>
<circle cx="351.2" cy="1367.58" r="0.9" fill="#fff"/>
<polygon points="378.9,1366.58 387.9,1366.58 383.4,1386.58" fill="#fff" stroke="#000" stroke-width="2.2" stroke-linejoin="round"/>
<path d="M391.4,1366.08 Q395,1375.58 398.6,1366.08 Z" fill="#000"/>
<circle cx="395" cy="1367.58" r="0.9" fill="#fff"/>
<path d="M443,1366.08 Q446.6,1375.58 450.2,1366.08 Z" fill="#000"/>
<circle cx="446.6" cy="1367.58" r="0.9" fill="#fff"/>
<path d="M470.4,1366.08 Q474,1375.58 477.6,1366.08 Z" fill="#000"/>
<circle cx="474" cy="1367.58" r="0.9" fill="#fff"/>
<polygon points="514.7,1365.58 520.9,1365.58 517.8,1373.58" fill="#000"/>
<path d="M644,1366.08 Q647.6,1375.58 651.2,1366.08 Z" fill="#000"/>
<circle cx="647.6" cy="1367.58" r="0.9" fill="#fff"/>
<polygon points="723.9,1365.58 730.1,1365.58 727,1376.58" fill="#000"/>
<polygon points="725.7,1366.88 728.3,1366.88 727,1370.78" fill="#fff"/>
<path d="M745.4,1366.08 Q749,1375.58 752.6,1366.08 Z" fill="#000"/>
<circle cx="749" cy="1367.58" r="0.9" fill="#fff"/>
<polygon points="763.8,1365.58 770,1365.58 766.9,1384.58" fill="#000"/>
<polygon points="765.6,1366.88 768.2,1366.88 766.9,1374.14" fill="#fff"/>
<path d="M919.4,1366.08 Q923,1375.58 926.6,1366.08 Z" fill="#000"/>
<circle cx="923" cy="1367.58" r="0.9" fill="#fff"/>
<path d="M980.4,1366.08 Q984,1375.58 987.6,1366.08 Z" fill="#000"/>
<circle cx="984" cy="1367.58" r="0.9" fill="#fff"/>
<path d="M988.4,1366.08 Q992,1375.58 995.6,1366.08 Z" fill="#000"/>
<circle cx="992" cy="1367.58" r="0.9" fill="#fff"/>
<path d="M1025.4,1366.08 Q1029,1375.58 1032.6,1366.08 Z" fill="#000"/>
<circle cx="1029" cy="1367.58" r="0.9" fill="#fff"/>
<path d="M1074.4,1366.08 Q1078,1375.58 1081.6,1366.08 Z" fill="#000"/>
<circle cx="1078" cy="1367.58" r="0.9" fill="#fff"/>
<path d="M1090.4,1366.08 Q1094,1375.58 1097.6,1366.08 Z" fill="#000"/>
<circle cx="1094" cy="1367.58" r="0.9" fill="#fff"/>
<path d="M1103.4,1366.08 Q1107,1375.58 1110.6,1366.08 Z" fill="#000"/>
<circle cx="1107" cy="1367.58" r="0.9" fill="#fff"/>
<path d="M1153.9,1366.08 Q1157.5,1375.58 1161.1,1366.08 Z" fill="#000"/>
<circle cx="1157.5" cy="1367.58" r="0.9" fill="#fff"/>
<polygon points="1195.8,1365.58 1202,1365.58 1198.9,1386.58" fill="#000"/>
<polygon points="1197.6,1366.88 1200.2,1366.88 1198.9,1374.58" fill="#fff"/>
<path d="M1250.2,1366.08 Q1253.8,1375.58 1257.4,1366.08 Z" fill="#000"/>
<circle cx="1253.8" cy="1367.58" r="0.9" fill="#fff"/>
<polygon points="1266.9,1365.58 1273.1,1365.58 1270,1376.58" fill="#000"/>
<polygon points="1268.7,1366.88 1271.3,1366.88 1270,1370.78" fill="#fff"/>
<polygon points="1288,1366.58 1339,1366.58 1337,1399.58 1291,1399.58" fill="#fff" stroke="#000" stroke-width="2.4" stroke-linejoin="round"/>
<rect x="1291.25" y="1389.08" width="45.19" height="8" fill="#c8c8c8" opacity="0.6"/>
<line x1="1289.45" y1="1382.58" x2="1338.03" y2="1382.58" stroke="#000" stroke-width="2.6"/>
<path d="M1598.4,1366.08 Q1602,1375.58 1605.6,1366.08 Z" fill="#000"/>
<circle cx="1602" cy="1367.58" r="0.9" fill="#fff"/>
<polygon points="1629.9,1365.58 1636.1,1365.58 1633,1386.58" fill="#000"/>
<polygon points="1631.7,1366.88 1634.3,1366.88 1633,1374.58" fill="#fff"/>
<polygon points="1653.9,1365.58 1660.1,1365.58 1657,1386.58" fill="#000"/>
<polygon points="1655.7,1366.88 1658.3,1366.88 1657,1374.58" fill="#fff"/>
<path d="M1761.7,1366.08 Q1765.3,1375.58 1768.9,1366.08 Z" fill="#000"/>
<circle cx="1765.3" cy="1367.58" r="0.9" fill="#fff"/>
<path d="M1863.8,1366.08 Q1867.4,1375.58 1871,1366.08 Z" fill="#000"/>
<circle cx="1867.4" cy="1367.58" r="0.9" fill="#fff"/>
<polygon points="2063.9,1365.58 2070.1,1365.58 2067,1378.58" fill="#000"/>
<polygon points="2065.7,1366.88 2068.3,1366.88 2067,1371.62" fill="#fff"/>
<rect x="281.4" y="1103.3" width="1923.7" height="300.3" fill="none" stroke="#000" stroke-width="5.8"/>
<text class="pc" transform="translate(2210.5,1121.8) scale(0.865,1)">100%</text>
<text class="pc" transform="translate(2209.8,1143.4) scale(0.865,1)">50%</text>
<text class="pc" transform="translate(2210.5,1164.83) scale(0.865,1)">100%</text>
<text class="pc" transform="translate(2209.8,1186.43) scale(0.865,1)">50%</text>
<text class="pc" transform="translate(2210.5,1207.86) scale(0.865,1)">100%</text>
<text class="pc" transform="translate(2209.8,1229.46) scale(0.865,1)">50%</text>
<text class="pc" transform="translate(2210.5,1250.89) scale(0.865,1)">100%</text>
<text class="pc" transform="translate(2209.8,1272.49) scale(0.865,1)">50%</text>
<text class="pc" transform="translate(2210.5,1293.92) scale(0.865,1)">100%</text>
<text class="pc" transform="translate(2209.8,1315.52) scale(0.865,1)">50%</text>
<text class="pc" transform="translate(2210.5,1336.95) scale(0.865,1)">100%</text>
<text class="pc" transform="translate(2209.8,1358.55) scale(0.865,1)">50%</text>
<text class="pc" transform="translate(2210.5,1379.98) scale(0.865,1)">100%</text>
<text class="pc" transform="translate(2209.8,1401.58) scale(0.865,1)">50%</text>
<rect x="285.3" y="1546.5" width="171.4" height="25.8" fill="#8888ff"/>
<rect x="507.4" y="1546.5" width="11.1" height="25.8" fill="#8888ff"/>
<rect x="568.7" y="1546.5" width="5.1" height="25.8" fill="#8888ff"/>
<rect x="577.7" y="1546.5" width="51.8" height="25.8" fill="#8888ff"/>
<rect x="639.5" y="1546.5" width="80.4" height="25.8" fill="#8888ff"/>
<rect x="722.8" y="1546.5" width="14.3" height="25.8" fill="#8888ff"/>
<rect x="750.5" y="1546.5" width="17.3" height="25.8" fill="#8888ff"/>
<rect x="778.3" y="1546.5" width="30.6" height="25.8" fill="#8888ff"/>
<rect x="825.2" y="1546.5" width="60.3" height="25.8" fill="#8888ff"/>
<rect x="941" y="1546.5" width="92" height="25.8" fill="#8888ff"/>
<rect x="1036.8" y="1546.5" width="15.3" height="25.8" fill="#8888ff"/>
<rect x="1067.4" y="1546.5" width="286.3" height="25.8" fill="#8888ff"/>
<rect x="1366.2" y="1546.5" width="6.7" height="25.8" fill="#8888ff"/>
<rect x="1400.6" y="1546.5" width="6.7" height="25.8" fill="#8888ff"/>
<rect x="1600.7" y="1546.5" width="5.8" height="25.8" fill="#8888ff"/>
<rect x="1647.7" y="1546.5" width="7.6" height="25.8" fill="#8888ff"/>
<rect x="1702.2" y="1546.5" width="6.7" height="25.8" fill="#8888ff"/>
<rect x="1810.4" y="1546.5" width="5.8" height="25.8" fill="#8888ff"/>
<rect x="1842" y="1546.5" width="14.4" height="25.8" fill="#8888ff"/>
<rect x="1903.5" y="1546.5" width="14.1" height="25.8" fill="#8888ff"/>
<rect x="1943" y="1546.5" width="30.3" height="25.8" fill="#8888ff"/>
<rect x="1986.5" y="1546.5" width="42" height="25.8" fill="#8888ff"/>
<rect x="2063.4" y="1546.5" width="39.1" height="25.8" fill="#8888ff"/>
<rect x="2131.2" y="1546.5" width="5.6" height="25.8" fill="#8888ff"/>
<rect x="1418.8" y="1546.5" width="9.6" height="25.8" fill="#66efef"/>
<rect x="1438" y="1546.5" width="8.6" height="25.8" fill="#66efef"/>
<rect x="1450.4" y="1546.5" width="148.4" height="25.8" fill="#66efef"/>
<rect x="284.3" y="1571.8" width="1918.2" height="300.4" fill="#ff8888"/>
<rect x="285.3" y="1571.8" width="171.4" height="300.4" fill="#8888ff"/>
<rect x="507.4" y="1571.8" width="11.1" height="300.4" fill="#8888ff"/>
<rect x="568.7" y="1571.8" width="5.1" height="300.4" fill="#8888ff"/>
<rect x="577.7" y="1571.8" width="51.8" height="300.4" fill="#8888ff"/>
<rect x="639.5" y="1571.8" width="80.4" height="300.4" fill="#8888ff"/>
<rect x="722.8" y="1571.8" width="14.3" height="300.4" fill="#8888ff"/>
<rect x="750.5" y="1571.8" width="17.3" height="300.4" fill="#8888ff"/>
<rect x="778.3" y="1571.8" width="30.6" height="300.4" fill="#8888ff"/>
<rect x="825.2" y="1571.8" width="60.3" height="300.4" fill="#8888ff"/>
<rect x="941" y="1571.8" width="92" height="300.4" fill="#8888ff"/>
<rect x="1036.8" y="1571.8" width="15.3" height="300.4" fill="#8888ff"/>
<rect x="1067.4" y="1571.8" width="286.3" height="300.4" fill="#8888ff"/>
<rect x="1366.2" y="1571.8" width="6.7" height="300.4" fill="#8888ff"/>
<rect x="1400.6" y="1571.8" width="6.7" height="300.4" fill="#8888ff"/>
<rect x="1600.7" y="1571.8" width="5.8" height="300.4" fill="#8888ff"/>
<rect x="1647.7" y="1571.8" width="7.6" height="300.4" fill="#8888ff"/>
<rect x="1702.2" y="1571.8" width="6.7" height="300.4" fill="#8888ff"/>
<rect x="1810.4" y="1571.8" width="5.8" height="300.4" fill="#8888ff"/>
<rect x="1842" y="1571.8" width="14.4" height="300.4" fill="#8888ff"/>
<rect x="1903.5" y="1571.8" width="14.1" height="300.4" fill="#8888ff"/>
<rect x="1943" y="1571.8" width="30.3" height="300.4" fill="#8888ff"/>
<rect x="1986.5" y="1571.8" width="42" height="300.4" fill="#8888ff"/>
<rect x="2063.4" y="1571.8" width="39.1" height="300.4" fill="#8888ff"/>
<rect x="2131.2" y="1571.8" width="5.6" height="300.4" fill="#8888ff"/>
<rect x="1418.8" y="1571.8" width="9.6" height="300.4" fill="#66efef"/>
<rect x="1438" y="1571.8" width="8.6" height="300.4" fill="#66efef"/>
<rect x="1450.4" y="1571.8" width="148.4" height="300.4" fill="#66efef"/>
<rect x="284.3" y="1600.8" width="1918.2" height="13.6" fill="#c8c8c8" opacity="0.55"/>
<rect x="284.3" y="1602.3" width="1918.2" height="8" fill="#c8c8c8"/>
<polygon points="305.5,1598.3 285.5,1606.3 305.5,1614.3" fill="#d2d2d2"/>
<rect x="284.3" y="1643" width="1918.2" height="13.6" fill="#c8c8c8" opacity="0.55"/>
<rect x="284.3" y="1644.5" width="1918.2" height="8" fill="#c8c8c8"/>
<polygon points="305.5,1640.5 285.5,1648.5 305.5,1656.5" fill="#d2d2d2"/>
<rect x="284.3" y="1685.2" width="1918.2" height="13.6" fill="#c8c8c8" opacity="0.55"/>
<rect x="284.3" y="1686.7" width="1918.2" height="8" fill="#c8c8c8"/>
<polygon points="305.5,1682.7 285.5,1690.7 305.5,1698.7" fill="#d2d2d2"/>
<rect x="284.3" y="1727.4" width="1918.2" height="13.6" fill="#c8c8c8" opacity="0.55"/>
<rect x="284.3" y="1728.9" width="1918.2" height="8" fill="#c8c8c8"/>
<rect x="284.3" y="1769.6" width="1918.2" height="13.6" fill="#c8c8c8" opacity="0.55"/>
<rect x="284.3" y="1771.1" width="1918.2" height="8" fill="#c8c8c8"/>
<rect x="284.3" y="1811.8" width="1918.2" height="13.6" fill="#c8c8c8" opacity="0.55"/>
<rect x="284.3" y="1813.3" width="1918.2" height="8" fill="#c8c8c8"/>
<polygon points="307,1809.3 287,1817.3 307,1825.3" fill="#d2d2d2"/>
<polygon points="334,1809.3 314,1817.3 334,1825.3" fill="#d2d2d2"/>
<rect x="284.3" y="1854" width="1918.2" height="13.6" fill="#c8c8c8" opacity="0.55"/>
<rect x="284.3" y="1855.5" width="1918.2" height="8" fill="#c8c8c8"/>
<polygon points="305.5,1851.5 285.5,1859.5 305.5,1867.5" fill="#d2d2d2"/>
<line x1="576.3" y1="1546.5" x2="576.3" y2="1872.2" stroke="#fff" stroke-width="1.7" stroke-dasharray="12 3"/>
<line x1="1034.9" y1="1546.5" x2="1034.9" y2="1872.2" stroke="#fff" stroke-width="1.7" stroke-dasharray="12 3"/>
<line x1="1448.5" y1="1546.5" x2="1448.5" y2="1872.2" stroke="#fff" stroke-width="1.7" stroke-dasharray="12 3"/>
<polygon points="2153.5,1578.8 2202.5,1578.8 2202.5,1597.3 2192,1597.3 2187,1583.8 2181,1584.8 2176,1597.3 2154.5,1597.3" fill="#fff"/>
<rect x="2156" y="1610.3" width="46.5" height="3.8" fill="#ffffff" opacity="0.85"/>
<polyline points="2153.5,1578.8 2154.5,1597.3 2176,1597.3 2181,1584.8 2187,1583.8 2192,1597.3 2202.5,1597.3" fill="none" stroke="#000" stroke-width="2.4" stroke-linejoin="round"/>
<line x1="2156" y1="1612.8" x2="2202.5" y2="1612.8" stroke="#000" stroke-width="1.8" stroke-dasharray="2 7"/>
<polygon points="2153.5,1663.2 2202.5,1663.2 2202.5,1681.7 2192,1681.7 2187,1668.2 2181,1669.2 2176,1681.7 2154.5,1681.7" fill="#fff"/>
<rect x="2156" y="1694.7" width="46.5" height="3.8" fill="#ffffff" opacity="0.85"/>
<polyline points="2153.5,1663.2 2154.5,1681.7 2176,1681.7 2181,1669.2 2187,1668.2 2192,1681.7 2202.5,1681.7" fill="none" stroke="#000" stroke-width="2.4" stroke-linejoin="round"/>
<line x1="2156" y1="1697.2" x2="2202.5" y2="1697.2" stroke="#000" stroke-width="1.8" stroke-dasharray="2 7"/>
<polygon points="2153.5,1789.8 2202.5,1789.8 2202.5,1808.3 2192,1808.3 2187,1794.8 2181,1795.8 2176,1808.3 2154.5,1808.3" fill="#fff"/>
<rect x="2156" y="1821.3" width="46.5" height="3.8" fill="#ffffff" opacity="0.85"/>
<polyline points="2153.5,1789.8 2154.5,1808.3 2176,1808.3 2181,1795.8 2187,1794.8 2192,1808.3 2202.5,1808.3" fill="none" stroke="#000" stroke-width="2.4" stroke-linejoin="round"/>
<line x1="2156" y1="1823.8" x2="2202.5" y2="1823.8" stroke="#000" stroke-width="1.8" stroke-dasharray="2 7"/>
<polygon points="2145,1832 2202.5,1832 2202.5,1850.5 2192,1850.5 2187,1837 2181,1838 2176,1850.5 2154.5,1850.5" fill="#fff"/>
<rect x="2156" y="1863.5" width="46.5" height="3.8" fill="#ffffff" opacity="0.85"/>
<polyline points="2145,1832 2154.5,1850.5 2176,1850.5 2181,1838 2187,1837 2192,1850.5 2202.5,1850.5" fill="none" stroke="#000" stroke-width="2.4" stroke-linejoin="round"/>
<line x1="2156" y1="1866" x2="2202.5" y2="1866" stroke="#000" stroke-width="1.8" stroke-dasharray="2 7"/>
<rect x="2198.5" y="1621" width="4" height="35.5" fill="#ffffff" opacity="0.7"/>
<rect x="2198.5" y="1705.4" width="4" height="35.5" fill="#ffffff" opacity="0.7"/>
<rect x="2198.5" y="1747.6" width="4" height="35.5" fill="#ffffff" opacity="0.7"/>
<rect x="284.3" y="1571.8" width="1918.2" height="8.2" fill="#000"/>
<rect x="284.3" y="1612.5" width="1918.2" height="6.5" fill="#ffffff"/>
<rect x="284.3" y="1619" width="1918.2" height="3.2" fill="#000"/>
<rect x="284.3" y="1656.2" width="1918.2" height="8.2" fill="#000"/>
<rect x="284.3" y="1698.4" width="1918.2" height="8.2" fill="#000"/>
<rect x="284.3" y="1740.6" width="1918.2" height="8.2" fill="#000"/>
<rect x="284.3" y="1787.3" width="1918.2" height="3.5" fill="#000"/>
<rect x="284.3" y="1825" width="1918.2" height="8.2" fill="#000"/>
<path d="M316.6,1579.3 Q320.2,1588.8 323.8,1579.3 Z" fill="#000"/>
<circle cx="320.2" cy="1580.8" r="0.9" fill="#fff"/>
<polygon points="335.5,1578.8 341.7,1578.8 338.6,1599.8" fill="#000"/>
<polygon points="337.3,1580.1 339.9,1580.1 338.6,1587.8" fill="#fff"/>
<polygon points="465.3,1578.8 471.5,1578.8 468.4,1599.8" fill="#000"/>
<polygon points="467.1,1580.1 469.7,1580.1 468.4,1587.8" fill="#fff"/>
<polygon points="483.7,1578.8 489.9,1578.8 486.8,1599.8" fill="#000"/>
<polygon points="485.5,1580.1 488.1,1580.1 486.8,1587.8" fill="#fff"/>
<polygon points="497.5,1578.8 503.7,1578.8 500.6,1599.8" fill="#000"/>
<polygon points="499.3,1580.1 501.9,1580.1 500.6,1587.8" fill="#fff"/>
<polygon points="520.2,1579.8 529.2,1579.8 524.7,1595.8" fill="#fff" stroke="#000" stroke-width="2.2" stroke-linejoin="round"/>
<polygon points="532.8,1579.8 540.8,1579.8 536.8,1583.8" fill="#fff" stroke="#000" stroke-width="2.2" stroke-linejoin="round"/>
<path d="M624.4,1579.3 Q628,1588.8 631.6,1579.3 Z" fill="#000"/>
<circle cx="628" cy="1580.8" r="0.9" fill="#fff"/>
<path d="M717.4,1579.3 Q721,1588.8 724.6,1579.3 Z" fill="#000"/>
<circle cx="721" cy="1580.8" r="0.9" fill="#fff"/>
<polygon points="739.9,1578.8 746.1,1578.8 743,1595.8" fill="#000"/>
<polygon points="741.7,1580.1 744.3,1580.1 743,1586.52" fill="#fff"/>
<path d="M748.4,1579.3 Q752,1588.8 755.6,1579.3 Z" fill="#000"/>
<circle cx="752" cy="1580.8" r="0.9" fill="#fff"/>
<path d="M769,1579.3 Q772.6,1588.8 776.2,1579.3 Z" fill="#000"/>
<circle cx="772.6" cy="1580.8" r="0.9" fill="#fff"/>
<polygon points="893.6,1578.8 899.8,1578.8 896.7,1585.8" fill="#000"/>
<path d="M902.4,1579.3 Q906,1588.8 909.6,1579.3 Z" fill="#000"/>
<circle cx="906" cy="1580.8" r="0.9" fill="#fff"/>
<path d="M935.4,1579.3 Q939,1588.8 942.6,1579.3 Z" fill="#000"/>
<circle cx="939" cy="1580.8" r="0.9" fill="#fff"/>
<polygon points="1201.5,1578.8 1207.7,1578.8 1204.6,1593.8" fill="#000"/>
<polygon points="1203.3,1580.1 1205.9,1580.1 1204.6,1585.68" fill="#fff"/>
<polygon points="1229.1,1578.8 1235.3,1578.8 1232.2,1586.8" fill="#000"/>
<path d="M1246.7,1579.3 Q1250.3,1588.8 1253.9,1579.3 Z" fill="#000"/>
<circle cx="1250.3" cy="1580.8" r="0.9" fill="#fff"/>
<polygon points="1404.6,1578.8 1410.8,1578.8 1407.7,1585.8" fill="#000"/>
<polygon points="1413.9,1578.8 1420.1,1578.8 1417,1589.8" fill="#000"/>
<polygon points="1415.7,1580.1 1418.3,1580.1 1417,1584" fill="#fff"/>
<path d="M1613.2,1579.3 Q1616.8,1588.8 1620.4,1579.3 Z" fill="#000"/>
<circle cx="1616.8" cy="1580.8" r="0.9" fill="#fff"/>
<polygon points="1675.9,1578.8 1682.1,1578.8 1679,1591.8" fill="#000"/>
<polygon points="1677.7,1580.1 1680.3,1580.1 1679,1584.84" fill="#fff"/>
<polygon points="1823.7,1578.8 1829.9,1578.8 1826.8,1587.8" fill="#000"/>
<polygon points="1825.5,1580.1 1828.1,1580.1 1826.8,1583.16" fill="#fff"/>
<polygon points="1848.1,1578.8 1854.3,1578.8 1851.2,1601.8" fill="#000"/>
<polygon points="1849.9,1580.1 1852.5,1580.1 1851.2,1587.8" fill="#fff"/>
<polygon points="1879.4,1578.8 1885.6,1578.8 1882.5,1586.8" fill="#000"/>
<polygon points="2109.3,1578.8 2115.5,1578.8 2112.4,1586.8" fill="#000"/>
<path d="M2141.4,1579.3 Q2145,1588.8 2148.6,1579.3 Z" fill="#000"/>
<circle cx="2145" cy="1580.8" r="0.9" fill="#fff"/>
<polygon points="335.5,1621 341.7,1621 338.6,1642" fill="#000"/>
<polygon points="337.3,1622.3 339.9,1622.3 338.6,1630" fill="#fff"/>
<polygon points="465.3,1621 471.5,1621 468.4,1642" fill="#000"/>
<polygon points="467.1,1622.3 469.7,1622.3 468.4,1630" fill="#fff"/>
<path d="M480.4,1621.5 Q484,1631 487.6,1621.5 Z" fill="#000"/>
<circle cx="484" cy="1623" r="0.9" fill="#fff"/>
<path d="M488.4,1621.5 Q492,1631 495.6,1621.5 Z" fill="#000"/>
<circle cx="492" cy="1623" r="0.9" fill="#fff"/>
<polygon points="497.5,1621 503.7,1621 500.6,1632" fill="#000"/>
<polygon points="499.3,1622.3 501.9,1622.3 500.6,1626.2" fill="#fff"/>
<polygon points="519.1,1622 528.1,1622 523.6,1643" fill="#fff" stroke="#000" stroke-width="2.2" stroke-linejoin="round"/>
<path d="M532.4,1621.5 Q536,1631 539.6,1621.5 Z" fill="#000"/>
<circle cx="536" cy="1623" r="0.9" fill="#fff"/>
<path d="M539.4,1621.5 Q543,1631 546.6,1621.5 Z" fill="#000"/>
<circle cx="543" cy="1623" r="0.9" fill="#fff"/>
<path d="M546.4,1621.5 Q550,1631 553.6,1621.5 Z" fill="#000"/>
<circle cx="550" cy="1623" r="0.9" fill="#fff"/>
<path d="M624.4,1621.5 Q628,1631 631.6,1621.5 Z" fill="#000"/>
<circle cx="628" cy="1623" r="0.9" fill="#fff"/>
<path d="M717.4,1621.5 Q721,1631 724.6,1621.5 Z" fill="#000"/>
<circle cx="721" cy="1623" r="0.9" fill="#fff"/>
<polygon points="739.9,1621 746.1,1621 743,1638" fill="#000"/>
<polygon points="741.7,1622.3 744.3,1622.3 743,1628.72" fill="#fff"/>
<path d="M772.4,1621.5 Q776,1631 779.6,1621.5 Z" fill="#000"/>
<circle cx="776" cy="1623" r="0.9" fill="#fff"/>
<polygon points="810.9,1621 817.1,1621 814,1629" fill="#000"/>
<polygon points="893.6,1621 899.8,1621 896.7,1634" fill="#000"/>
<polygon points="895.4,1622.3 898,1622.3 896.7,1627.04" fill="#fff"/>
<path d="M920.7,1621.5 Q924.3,1631 927.9,1621.5 Z" fill="#000"/>
<circle cx="924.3" cy="1623" r="0.9" fill="#fff"/>
<path d="M1052.8,1621.5 Q1056.4,1631 1060,1621.5 Z" fill="#000"/>
<circle cx="1056.4" cy="1623" r="0.9" fill="#fff"/>
<path d="M1157.4,1621.5 Q1161,1631 1164.6,1621.5 Z" fill="#000"/>
<circle cx="1161" cy="1623" r="0.9" fill="#fff"/>
<path d="M1201,1621.5 Q1204.6,1631 1208.2,1621.5 Z" fill="#000"/>
<circle cx="1204.6" cy="1623" r="0.9" fill="#fff"/>
<polygon points="1229.1,1621 1235.3,1621 1232.2,1642" fill="#000"/>
<polygon points="1230.9,1622.3 1233.5,1622.3 1232.2,1630" fill="#fff"/>
<polygon points="1823.7,1621 1829.9,1621 1826.8,1630" fill="#000"/>
<polygon points="1825.5,1622.3 1828.1,1622.3 1826.8,1625.36" fill="#fff"/>
<polygon points="1848.1,1621 1854.3,1621 1851.2,1644" fill="#000"/>
<polygon points="1849.9,1622.3 1852.5,1622.3 1851.2,1630" fill="#fff"/>
<polygon points="2153.4,1621 2159.6,1621 2156.5,1630" fill="#000"/>
<polygon points="2155.2,1622.3 2157.8,1622.3 2156.5,1625.36" fill="#fff"/>
<polygon points="2158.9,1621 2165.1,1621 2162,1628" fill="#000"/>
<polygon points="2165,1622 2173,1622 2171,1634 2167,1634" fill="#fff" stroke="#000" stroke-width="2.4" stroke-linejoin="round"/>
<polygon points="2177.9,1621 2184.1,1621 2181,1628" fill="#000"/>
<polygon points="2190.5,1621 2196.7,1621 2193.6,1639" fill="#000"/>
<polygon points="2192.3,1622.3 2194.9,1622.3 2193.6,1629.14" fill="#fff"/>
<polygon points="335.5,1663.2 341.7,1663.2 338.6,1685.2" fill="#000"/>
<polygon points="337.3,1664.5 339.9,1664.5 338.6,1672.2" fill="#fff"/>
<polygon points="465.3,1663.2 471.5,1663.2 468.4,1685.2" fill="#000"/>
<polygon points="467.1,1664.5 469.7,1664.5 468.4,1672.2" fill="#fff"/>
<polygon points="482.8,1664.2 490.8,1664.2 486.8,1677.2" fill="#fff" stroke="#000" stroke-width="2.2" stroke-linejoin="round"/>
<polygon points="495.9,1664.2 502.9,1664.2 499.4,1673.2" fill="#fff" stroke="#000" stroke-width="2.2" stroke-linejoin="round"/>
<polygon points="521.4,1664.2 530.4,1664.2 525.9,1673.2" fill="#fff" stroke="#000" stroke-width="2.2" stroke-linejoin="round"/>
<polygon points="533.1,1663.2 539.3,1663.2 536.2,1673.2" fill="#000"/>
<polygon points="534.9,1664.5 537.5,1664.5 536.2,1667.98" fill="#fff"/>
<path d="M717.4,1663.7 Q721,1673.2 724.6,1663.7 Z" fill="#000"/>
<circle cx="721" cy="1665.2" r="0.9" fill="#fff"/>
<polygon points="739.9,1663.2 746.1,1663.2 743,1677.2" fill="#000"/>
<polygon points="741.7,1664.5 744.3,1664.5 743,1669.66" fill="#fff"/>
<polygon points="893.6,1663.2 899.8,1663.2 896.7,1677.2" fill="#000"/>
<polygon points="895.4,1664.5 898,1664.5 896.7,1669.66" fill="#fff"/>
<polygon points="1053.1,1664.2 1062.1,1664.2 1057.6,1686.2" fill="#fff" stroke="#000" stroke-width="2.2" stroke-linejoin="round"/>
<polygon points="1139.5,1663.2 1145.7,1663.2 1142.6,1677.2" fill="#000"/>
<polygon points="1141.3,1664.5 1143.9,1664.5 1142.6,1669.66" fill="#fff"/>
<path d="M1198,1663.7 Q1201.6,1673.2 1205.2,1663.7 Z" fill="#000"/>
<circle cx="1201.6" cy="1665.2" r="0.9" fill="#fff"/>
<path d="M1228.6,1663.7 Q1232.2,1673.2 1235.8,1663.7 Z" fill="#000"/>
<circle cx="1232.2" cy="1665.2" r="0.9" fill="#fff"/>
<path d="M1413.4,1663.7 Q1417,1673.2 1420.6,1663.7 Z" fill="#000"/>
<circle cx="1417" cy="1665.2" r="0.9" fill="#fff"/>
<path d="M1613.2,1663.7 Q1616.8,1673.2 1620.4,1663.7 Z" fill="#000"/>
<circle cx="1616.8" cy="1665.2" r="0.9" fill="#fff"/>
<polygon points="1675.9,1663.2 1682.1,1663.2 1679,1680.2" fill="#000"/>
<polygon points="1677.7,1664.5 1680.3,1664.5 1679,1670.92" fill="#fff"/>
<polygon points="1823.7,1663.2 1829.9,1663.2 1826.8,1672.2" fill="#000"/>
<polygon points="1825.5,1664.5 1828.1,1664.5 1826.8,1667.56" fill="#fff"/>
<polygon points="1848.1,1663.2 1854.3,1663.2 1851.2,1686.2" fill="#000"/>
<polygon points="1849.9,1664.5 1852.5,1664.5 1851.2,1672.2" fill="#fff"/>
<path d="M1878.9,1663.7 Q1882.5,1673.2 1886.1,1663.7 Z" fill="#000"/>
<circle cx="1882.5" cy="1665.2" r="0.9" fill="#fff"/>
<polygon points="1888.7,1663.2 1894.9,1663.2 1891.8,1674.2" fill="#000"/>
<polygon points="1890.5,1664.5 1893.1,1664.5 1891.8,1668.4" fill="#fff"/>
<path d="M2141.4,1663.7 Q2145,1673.2 2148.6,1663.7 Z" fill="#000"/>
<circle cx="2145" cy="1665.2" r="0.9" fill="#fff"/>
<polygon points="334.6,1790.8 342.6,1790.8 338.6,1808.8" fill="#fff" stroke="#000" stroke-width="2.2" stroke-linejoin="round"/>
<path d="M460.2,1790.3 Q463.8,1799.8 467.4,1790.3 Z" fill="#000"/>
<circle cx="463.8" cy="1791.8" r="0.9" fill="#fff"/>
<polygon points="465.3,1789.8 471.5,1789.8 468.4,1812.8" fill="#000"/>
<polygon points="467.1,1791.1 469.7,1791.1 468.4,1798.8" fill="#fff"/>
<polygon points="497.7,1790.8 505.7,1790.8 501.7,1810.8" fill="#fff" stroke="#000" stroke-width="2.2" stroke-linejoin="round"/>
<polygon points="520.2,1790.8 529.2,1790.8 524.7,1806.8" fill="#fff" stroke="#000" stroke-width="2.2" stroke-linejoin="round"/>
<polygon points="533.1,1789.8 539.3,1789.8 536.2,1810.8" fill="#000"/>
<polygon points="534.9,1791.1 537.5,1791.1 536.2,1798.8" fill="#fff"/>
<path d="M624.4,1790.3 Q628,1799.8 631.6,1790.3 Z" fill="#000"/>
<circle cx="628" cy="1791.8" r="0.9" fill="#fff"/>
<path d="M717.4,1790.3 Q721,1799.8 724.6,1790.3 Z" fill="#000"/>
<circle cx="721" cy="1791.8" r="0.9" fill="#fff"/>
<polygon points="739.9,1789.8 746.1,1789.8 743,1804.8" fill="#000"/>
<polygon points="741.7,1791.1 744.3,1791.1 743,1796.68" fill="#fff"/>
<polygon points="768.6,1790.8 776.6,1790.8 772.6,1793.8" fill="#fff" stroke="#000" stroke-width="2.2" stroke-linejoin="round"/>
<polygon points="810.9,1789.8 817.1,1789.8 814,1807.8" fill="#000"/>
<polygon points="812.7,1791.1 815.3,1791.1 814,1797.94" fill="#fff"/>
<polygon points="893.6,1789.8 899.8,1789.8 896.7,1797.8" fill="#000"/>
<polygon points="1053.1,1790.8 1062.1,1790.8 1057.6,1812.8" fill="#fff" stroke="#000" stroke-width="2.2" stroke-linejoin="round"/>
<polygon points="1201.5,1789.8 1207.7,1789.8 1204.6,1807.8" fill="#000"/>
<polygon points="1203.3,1791.1 1205.9,1791.1 1204.6,1797.94" fill="#fff"/>
<polygon points="1229.1,1789.8 1235.3,1789.8 1232.2,1799.8" fill="#000"/>
<polygon points="1230.9,1791.1 1233.5,1791.1 1232.2,1794.58" fill="#fff"/>
<polygon points="1404.6,1789.8 1410.8,1789.8 1407.7,1799.8" fill="#000"/>
<polygon points="1406.4,1791.1 1409,1791.1 1407.7,1794.58" fill="#fff"/>
<path d="M1543.1,1790.3 Q1546.7,1799.8 1550.3,1790.3 Z" fill="#000"/>
<circle cx="1546.7" cy="1791.8" r="0.9" fill="#fff"/>
<polygon points="1675.9,1789.8 1682.1,1789.8 1679,1808.8" fill="#000"/>
<polygon points="1677.7,1791.1 1680.3,1791.1 1679,1798.36" fill="#fff"/>
<polygon points="1822.8,1790.8 1830.8,1790.8 1826.8,1810.8" fill="#fff" stroke="#000" stroke-width="2.2" stroke-linejoin="round"/>
<polygon points="1848.1,1789.8 1854.3,1789.8 1851.2,1802.8" fill="#000"/>
<polygon points="1849.9,1791.1 1852.5,1791.1 1851.2,1795.84" fill="#fff"/>
<polygon points="1879.4,1789.8 1885.6,1789.8 1882.5,1797.8" fill="#000"/>
<polygon points="303,1833 316.8,1833 314,1865 305,1865" fill="#fff" stroke="#000" stroke-width="2.4" stroke-linejoin="round"/>
<rect x="305.61" y="1855.5" width="8.03" height="8" fill="#c8c8c8" opacity="0.6"/>
<line x1="304.25" y1="1853" x2="315.05" y2="1853" stroke="#000" stroke-width="2.6"/>
<polygon points="334.6,1833 342.6,1833 338.6,1848" fill="#fff" stroke="#000" stroke-width="2.2" stroke-linejoin="round"/>
<polygon points="464.4,1833 472.4,1833 468.4,1853" fill="#fff" stroke="#000" stroke-width="2.2" stroke-linejoin="round"/>
<polygon points="483.7,1832 489.9,1832 486.8,1843" fill="#000"/>
<polygon points="485.5,1833.3 488.1,1833.3 486.8,1837.2" fill="#fff"/>
<polygon points="498.6,1832 504.8,1832 501.7,1847" fill="#000"/>
<polygon points="500.4,1833.3 503,1833.3 501.7,1838.88" fill="#fff"/>
<polygon points="521.4,1833 530.4,1833 525.9,1848" fill="#fff" stroke="#000" stroke-width="2.2" stroke-linejoin="round"/>
<path d="M532.6,1832.5 Q536.2,1842 539.8,1832.5 Z" fill="#000"/>
<circle cx="536.2" cy="1834" r="0.9" fill="#fff"/>
<polygon points="545.8,1833 551.8,1833 548.8,1837" fill="#fff" stroke="#000" stroke-width="2.2" stroke-linejoin="round"/>
<path d="M606.1,1832.5 Q609.7,1842 613.3,1832.5 Z" fill="#000"/>
<circle cx="609.7" cy="1834" r="0.9" fill="#fff"/>
<polygon points="626.4,1833 634.4,1833 630.4,1842" fill="#fff" stroke="#000" stroke-width="2.2" stroke-linejoin="round"/>
<path d="M717.4,1832.5 Q721,1842 724.6,1832.5 Z" fill="#000"/>
<circle cx="721" cy="1834" r="0.9" fill="#fff"/>
<polygon points="739.9,1832 746.1,1832 743,1848" fill="#000"/>
<polygon points="741.7,1833.3 744.3,1833.3 743,1839.3" fill="#fff"/>
<path d="M748.4,1832.5 Q752,1842 755.6,1832.5 Z" fill="#000"/>
<circle cx="752" cy="1834" r="0.9" fill="#fff"/>
<polygon points="769.8,1833 777.8,1833 773.8,1836" fill="#fff" stroke="#000" stroke-width="2.2" stroke-linejoin="round"/>
<polygon points="893.6,1832 899.8,1832 896.7,1839" fill="#000"/>
<polygon points="902.9,1832 909.1,1832 906,1839" fill="#000"/>
<path d="M921.4,1832.5 Q925,1842 928.6,1832.5 Z" fill="#000"/>
<circle cx="925" cy="1834" r="0.9" fill="#fff"/>
<path d="M931.4,1832.5 Q935,1842 938.6,1832.5 Z" fill="#000"/>
<circle cx="935" cy="1834" r="0.9" fill="#fff"/>
<path d="M1185,1832.5 Q1188.6,1842 1192.2,1832.5 Z" fill="#000"/>
<circle cx="1188.6" cy="1834" r="0.9" fill="#fff"/>
<polygon points="1194,1833 1206,1833 1200,1836" fill="#fff" stroke="#000" stroke-width="2.2" stroke-linejoin="round"/>
<polygon points="1229.1,1832 1235.3,1832 1232.2,1839" fill="#000"/>
<polygon points="1255,1833 1268.7,1833 1266,1865 1257,1865" fill="#fff" stroke="#000" stroke-width="2.4" stroke-linejoin="round"/>
<rect x="1257.61" y="1855.5" width="8" height="8" fill="#c8c8c8" opacity="0.6"/>
<line x1="1256.06" y1="1850" x2="1267.27" y2="1850" stroke="#000" stroke-width="2.6"/>
<polygon points="1404.6,1832 1410.8,1832 1407.7,1843" fill="#000"/>
<polygon points="1406.4,1833.3 1409,1833.3 1407.7,1837.2" fill="#fff"/>
<polygon points="1414.9,1832 1421.1,1832 1418,1845" fill="#000"/>
<polygon points="1416.7,1833.3 1419.3,1833.3 1418,1838.04" fill="#fff"/>
<path d="M1613.2,1832.5 Q1616.8,1842 1620.4,1832.5 Z" fill="#000"/>
<circle cx="1616.8" cy="1834" r="0.9" fill="#fff"/>
<polygon points="1823.7,1832 1829.9,1832 1826.8,1841" fill="#000"/>
<polygon points="1825.5,1833.3 1828.1,1833.3 1826.8,1836.36" fill="#fff"/>
<polygon points="1847.2,1833 1855.2,1833 1851.2,1855" fill="#fff" stroke="#000" stroke-width="2.2" stroke-linejoin="round"/>
<polygon points="1878.5,1833 1886.5,1833 1882.5,1845" fill="#fff" stroke="#000" stroke-width="2.2" stroke-linejoin="round"/>
<rect x="281.4" y="1574.7" width="1923.7" height="294.6" fill="none" stroke="#000" stroke-width="5.8"/>
<text class="pc" transform="translate(2210.5,1593.6) scale(0.865,1)">100%</text>
<text class="pc" transform="translate(2209.8,1612.6) scale(0.865,1)">50%</text>
<text class="pc" transform="translate(2210.5,1636) scale(0.865,1)">100%</text>
<text class="pc" transform="translate(2209.8,1656.2) scale(0.865,1)">50%</text>
<text class="pc" transform="translate(2210.5,1678) scale(0.865,1)">100%</text>
<text class="pc" transform="translate(2209.8,1699.7) scale(0.865,1)">50%</text>
<text class="pc" transform="translate(2210.5,1721.5) scale(0.865,1)">100%</text>
<text class="pc" transform="translate(2209.8,1742.4) scale(0.865,1)">50%</text>
<text class="pc" transform="translate(2210.5,1765) scale(0.865,1)">100%</text>
<text class="pc" transform="translate(2209.8,1783.2) scale(0.865,1)">50%</text>
<text class="pc" transform="translate(2210.5,1803) scale(0.865,1)">100%</text>
<text class="pc" transform="translate(2209.8,1824) scale(0.865,1)">50%</text>
<text class="pc" transform="translate(2210.5,1845.8) scale(0.865,1)">100%</text>
<text class="pc" transform="translate(2209.8,1866.7) scale(0.865,1)">50%</text>
<rect x="285" y="464" width="3.6" height="9.5" fill="#222"/>
<text class="ax" x="283.8" y="497.4" text-anchor="middle">0k</text>
<rect x="389.1" y="464" width="3.6" height="7" fill="#222"/>
<rect x="490.8" y="464" width="3.6" height="9.5" fill="#222"/>
<text class="ax" x="489.6" y="497.4" text-anchor="middle">4k</text>
<rect x="596.1" y="464" width="3.6" height="7" fill="#222"/>
<rect x="696.6" y="464" width="3.6" height="9.5" fill="#222"/>
<text class="ax" x="695.4" y="497.4" text-anchor="middle">8k</text>
<rect x="802.2" y="464" width="3.6" height="7" fill="#222"/>
<rect x="906.8" y="464" width="3.6" height="9.5" fill="#222"/>
<text class="ax" x="905.6" y="497.4" text-anchor="middle">12k</text>
<rect x="1008.9" y="464" width="3.6" height="7" fill="#222"/>
<rect x="1113.2" y="464" width="3.6" height="9.5" fill="#222"/>
<text class="ax" x="1112" y="497.4" text-anchor="middle">16k</text>
<rect x="1216" y="464" width="3.6" height="7" fill="#222"/>
<rect x="1319.2" y="464" width="3.6" height="9.5" fill="#222"/>
<text class="ax" x="1318" y="497.4" text-anchor="middle">20k</text>
<rect x="1422.2" y="464" width="3.6" height="7" fill="#222"/>
<rect x="1526.2" y="464" width="3.6" height="9.5" fill="#222"/>
<text class="ax" x="1525" y="497.4" text-anchor="middle">24k</text>
<rect x="1629.2" y="464" width="3.6" height="7" fill="#222"/>
<rect x="1732.6" y="464" width="3.6" height="9.5" fill="#222"/>
<text class="ax" x="1731.4" y="497.4" text-anchor="middle">28k</text>
<rect x="1837.6" y="464" width="3.6" height="7" fill="#222"/>
<rect x="1942.7" y="464" width="3.6" height="9.5" fill="#222"/>
<text class="ax" x="1941.5" y="497.4" text-anchor="middle">32k</text>
<rect x="2044.2" y="464" width="3.6" height="7" fill="#222"/>
<rect x="2149.2" y="464" width="3.6" height="9.5" fill="#222"/>
<text class="ax" x="2148" y="497.4" text-anchor="middle">36k</text>
<rect x="337.6" y="923.5" width="3.6" height="7" fill="#222"/>
<rect x="441.5" y="923.5" width="3.6" height="9.5" fill="#222"/>
<text class="ax" x="440.3" y="955" text-anchor="middle">40k</text>
<rect x="545.8" y="923.5" width="3.6" height="7" fill="#222"/>
<rect x="647.8" y="923.5" width="3.6" height="9.5" fill="#222"/>
<text class="ax" x="646.6" y="955" text-anchor="middle">44k</text>
<rect x="751.7" y="923.5" width="3.6" height="7" fill="#222"/>
<rect x="859.4" y="923.5" width="3.6" height="9.5" fill="#222"/>
<text class="ax" x="858.2" y="955" text-anchor="middle">48k</text>
<rect x="959.9" y="923.5" width="3.6" height="7" fill="#222"/>
<rect x="1062.8" y="923.5" width="3.6" height="9.5" fill="#222"/>
<text class="ax" x="1061.6" y="955" text-anchor="middle">52k</text>
<rect x="1165.8" y="923.5" width="3.6" height="7" fill="#222"/>
<rect x="1269.2" y="923.5" width="3.6" height="9.5" fill="#222"/>
<text class="ax" x="1268" y="955" text-anchor="middle">56k</text>
<rect x="1372.2" y="923.5" width="3.6" height="7" fill="#222"/>
<rect x="1475.2" y="923.5" width="3.6" height="9.5" fill="#222"/>
<text class="ax" x="1474" y="955" text-anchor="middle">60k</text>
<rect x="1578.2" y="923.5" width="3.6" height="7" fill="#222"/>
<rect x="1682.2" y="923.5" width="3.6" height="9.5" fill="#222"/>
<text class="ax" x="1681" y="955" text-anchor="middle">64k</text>
<rect x="1785.2" y="923.5" width="3.6" height="7" fill="#222"/>
<rect x="1888.2" y="923.5" width="3.6" height="9.5" fill="#222"/>
<text class="ax" x="1887" y="955" text-anchor="middle">68k</text>
<rect x="1994.2" y="923.5" width="3.6" height="7" fill="#222"/>
<rect x="2099.2" y="923.5" width="3.6" height="9.5" fill="#222"/>
<text class="ax" x="2098" y="955" text-anchor="middle">72k</text>
<rect x="2201.2" y="923.5" width="3.6" height="7" fill="#222"/>
<rect x="287.6" y="1405.5" width="3.6" height="7" fill="#222"/>
<rect x="392.5" y="1405.5" width="3.6" height="9.5" fill="#222"/>
<text class="ax" x="391.3" y="1438.4" text-anchor="middle">76k</text>
<rect x="497.2" y="1405.5" width="3.6" height="7" fill="#222"/>
<rect x="598.7" y="1405.5" width="3.6" height="9.5" fill="#222"/>
<text class="ax" x="597.5" y="1438.4" text-anchor="middle">80k</text>
<rect x="701.8" y="1405.5" width="3.6" height="7" fill="#222"/>
<rect x="804.9" y="1405.5" width="3.6" height="9.5" fill="#222"/>
<text class="ax" x="803.7" y="1438.4" text-anchor="middle">84k</text>
<rect x="908.2" y="1405.5" width="3.6" height="7" fill="#222"/>
<rect x="1011.2" y="1405.5" width="3.6" height="9.5" fill="#222"/>
<text class="ax" x="1010" y="1438.4" text-anchor="middle">88k</text>
<rect x="1114.2" y="1405.5" width="3.6" height="7" fill="#222"/>
<rect x="1217.2" y="1405.5" width="3.6" height="9.5" fill="#222"/>
<text class="ax" x="1216" y="1438.4" text-anchor="middle">92k</text>
<rect x="1320.2" y="1405.5" width="3.6" height="7" fill="#222"/>
<rect x="1423.2" y="1405.5" width="3.6" height="9.5" fill="#222"/>
<text class="ax" x="1422" y="1438.4" text-anchor="middle">96k</text>
<rect x="1526.2" y="1405.5" width="3.6" height="7" fill="#222"/>
<rect x="1630.2" y="1405.5" width="3.6" height="9.5" fill="#222"/>
<text class="ax" x="1629" y="1438.4" text-anchor="middle">100k</text>
<rect x="1733.2" y="1405.5" width="3.6" height="7" fill="#222"/>
<rect x="1836.2" y="1405.5" width="3.6" height="9.5" fill="#222"/>
<text class="ax" x="1835" y="1438.4" text-anchor="middle">104k</text>
<rect x="1939.2" y="1405.5" width="3.6" height="7" fill="#222"/>
<rect x="2042.2" y="1405.5" width="3.6" height="9.5" fill="#222"/>
<text class="ax" x="2041" y="1438.4" text-anchor="middle">108k</text>
<rect x="2145.2" y="1405.5" width="3.6" height="7" fill="#222"/>
<rect x="343.2" y="1871.2" width="3.6" height="9.5" fill="#222"/>
<text class="ax" x="339" y="1906" text-anchor="middle">112k</text>
<rect x="445.5" y="1871.2" width="3.6" height="7" fill="#222"/>
<rect x="549.7" y="1871.2" width="3.6" height="9.5" fill="#222"/>
<text class="ax" x="545.5" y="1906" text-anchor="middle">116k</text>
<rect x="653.8" y="1871.2" width="3.6" height="7" fill="#222"/>
<rect x="756.1" y="1871.2" width="3.6" height="9.5" fill="#222"/>
<text class="ax" x="751.9" y="1906" text-anchor="middle">120k</text>
<rect x="860.2" y="1871.2" width="3.6" height="7" fill="#222"/>
<rect x="962.5" y="1871.2" width="3.6" height="9.5" fill="#222"/>
<text class="ax" x="958.3" y="1906" text-anchor="middle">124k</text>
<rect x="1066.7" y="1871.2" width="3.6" height="7" fill="#222"/>
<rect x="1171.2" y="1871.2" width="3.6" height="9.5" fill="#222"/>
<text class="ax" x="1167" y="1906" text-anchor="middle">128k</text>
<rect x="1273.3" y="1871.2" width="3.6" height="7" fill="#222"/>
<rect x="1378.7" y="1871.2" width="3.6" height="9.5" fill="#222"/>
<text class="ax" x="1374.5" y="1906" text-anchor="middle">132k</text>
<rect x="1484.1" y="1871.2" width="3.6" height="7" fill="#222"/>
<rect x="1585.4" y="1871.2" width="3.6" height="9.5" fill="#222"/>
<text class="ax" x="1581.2" y="1906" text-anchor="middle">136k</text>
<rect x="1690.8" y="1871.2" width="3.6" height="7" fill="#222"/>
<rect x="1791.6" y="1871.2" width="3.6" height="9.5" fill="#222"/>
<text class="ax" x="1787.4" y="1906" text-anchor="middle">140k</text>
<rect x="1896.5" y="1871.2" width="3.6" height="7" fill="#222"/>
<rect x="2000.9" y="1871.2" width="3.6" height="9.5" fill="#222"/>
<text class="ax" x="1996.7" y="1906" text-anchor="middle">144k</text>
<rect x="2102.2" y="1871.2" width="3.6" height="7" fill="#222"/>
<text class="g" x="383.8" y="47.6">matK</text>
<text class="g" x="1576.4" y="47.6">rpoB</text>
<text class="g" x="2097.5" y="47.9">psbC</text>
<text class="g" x="664.8" y="67.5">trnS-GCU</text>
<text class="g" x="1861.2" y="67.5">trnY-GUA</text>
<text class="g" x="230.1" y="89.6">trnH-GUG</text>
<text class="g" x="374.8" y="89.6">trnK-UUU</text>
<text class="g" x="532.2" y="89.6">rps16</text>
<text class="g" x="600.6" y="89.6">trnQ-UUG</text>
<text class="g" x="745.3" y="89.6">trnR-UCU</text>
<text class="g" x="901.8" y="89.6">atpF</text>
<text class="g" x="954.5" y="89.6">atpH</text>
<text class="g" x="1046.6" y="89.6">atpI</text>
<text class="g" x="1089.8" y="89.6">rps2</text>
<text class="g" x="1218.8" y="89.6">rpoC2</text>
<text class="g" x="1409.8" y="89.6">rpoC1</text>
<text class="g" x="1691.6" y="89.6">trnC-GCA</text>
<text class="g" x="1836.3" y="89.6">psbM</text>
<text class="g" x="1913.8" y="89.6">trnT-GGU</text>
<text class="g" x="2037.2" y="90.5">psbD</text>
<text class="g" x="2119.8" y="89.6">trnS-UGA</text>
<text class="g" x="300.8" y="132.4">psbA</text>
<text class="g" x="661.5" y="132.4">psbK</text>
<text class="g" x="728.8" y="132.4">trnG-UCC</text>
<text class="g" x="839.3" y="132.4">atpA</text>
<text class="g" x="1765.3" y="132.4">petN</text>
<text class="g" x="1849.2" y="132.4">trnD-GUC</text>
<text class="g" x="2171.8" y="133">psbZ</text>
<text class="g" x="703.8" y="154.5">psbI</text>
<text class="g" x="1870.4" y="151.8">trnE-UUC</text>
<text class="g" x="255.4" y="524.2">trnfM-CAU</text>
<text class="g" x="258.2" y="549">psbZ</text>
<text class="g" x="249.8" y="570.3">trnG-UCC</text>
<text class="g" x="304.2" y="590.6">rps14</text>
<text class="g" x="381.6" y="590.6">psaB</text>
<text class="g" x="498.7" y="549">psaA</text>
<text class="g" x="649.8" y="549">ycf3</text>
<text class="g" x="711.5" y="534.4">trnS-GGA</text>
<text class="g" x="782.4" y="554.6">trnT-UGU</text>
<text class="g" x="874.6" y="525.2">trnF-GAA</text>
<text class="g" x="779.8" y="590.6">rps4</text>
<text class="g" x="841.4" y="590.6">trnL-UAA</text>
<text class="g" x="942.3" y="590.6">ndhJ</text>
<text class="g" x="974.1" y="549">ndhK</text>
<text class="g" x="1000.8" y="590.6">ndhC</text>
<text class="g" x="1057" y="549">trnV-UAC</text>
<text class="g" x="1165.8" y="545.4">atpE</text>
<text class="g" x="1080.8" y="590.6">trnM-CAU</text>
<text class="g" x="1192.5" y="506.7">atpB</text>
<text class="g" x="1308.6" y="549">rbcL</text>
<text class="g" x="1410.8" y="549">accD</text>
<text class="g" x="1479" y="549">psaI</text>
<text class="g" x="1555.5" y="549">cemA</text>
<text class="g" x="1515.8" y="590.6">ycf4</text>
<text class="g" x="1615.4" y="590.6">petA</text>
<text class="g" x="1714" y="516">psbF</text>
<text class="g" x="1774.8" y="528.8">trnW-CCA</text>
<text class="g" x="1694.6" y="549">psbJ</text>
<text class="g" x="1787.8" y="549">petL</text>
<text class="g" x="1849.4" y="549">psaJ</text>
<text class="g" x="1929.4" y="549">rpl20</text>
<text class="g" x="1722.3" y="568.5">psbE</text>
<text class="g" x="1799.8" y="576.8">petG</text>
<text class="g" x="1871.6" y="566.6">rpl33</text>
<text class="g" x="1707.5" y="590.6">psbL</text>
<text class="g" x="1790.5" y="598">trnP-UGG</text>
<text class="g" x="1895.5" y="590.6">rps18</text>
<text class="g" x="1977.4" y="507.6">rps12</text>
<text class="g" x="2051.8" y="549">clpP</text>
<text class="g" x="2147.8" y="549">psbB</text>
<text class="g" x="1977.4" y="590.6">rps12</text>
<text class="g" x="311.1" y="1007">psbN</text>
<text class="g" x="273.8" y="1031.8">psbB</text>
<text class="g" x="379.1" y="1031.8">petB</text>
<text class="g" x="456.7" y="1031.8">petD</text>
<text class="g" x="519.8" y="1031.8">rpoA</text>
<text class="g" x="578.2" y="1031.8">rpl36</text>
<text class="g" x="326.5" y="1052.9">psbI</text>
<text class="g" x="301.6" y="1074">psbT</text>
<text class="g" x="557.2" y="1074">rps11</text>
<text class="g" x="600.3" y="1090">infA</text>
<text class="g" x="622.3" y="1007">rps8</text>
<text class="g" x="788.8" y="988.7">rpl22</text>
<text class="g" x="899.8" y="1007">trnI-CAU</text>
<text class="g" x="698.8" y="1031.8">rpl16</text>
<text class="g" x="764" y="1031.8">rps3</text>
<text class="g" x="869.3" y="1031.8">rpl2</text>
<text class="g" x="647.2" y="1074">rpl14</text>
<text class="g" x="810" y="1074">rps19</text>
<text class="g" x="909.5" y="1074">rpl23</text>
<text class="g" x="1100.1" y="1031.8">ycf2</text>
<text class="g" x="1290.6" y="1031.8">trnL-CAA</text>
<text class="g" x="1408.4" y="1031.8">ndhB</text>
<text class="g" x="1497.4" y="1031.8">rps7</text>
<text class="g" x="1602.8" y="1031.8">ycf15</text>
<text class="g" x="1525.2" y="1074.9">rps12</text>
<text class="g" x="1611.3" y="1074.9">trnV-GAC</text>
<text class="g" x="1750.2" y="1031.8">trnI-GAU</text>
<text class="g" x="1937.8" y="1031.8">23S</text>
<text class="g" x="2014.4" y="1031.8">4.5S</text>
<text class="g" x="2021.4" y="1006.4">trnR-ACG</text>
<text class="g" x="1796.1" y="1074.9">trnA-UGC</text>
<text class="g" x="2046.5" y="1073.3">5S</text>
<text class="g" x="2052" y="1049">trnN-GUU</text>
<text class="g" x="2142.1" y="1026">ycf1</text>
<text class="g" x="366.7" y="1461.4">ndhF</text>
<text class="g" x="286.2" y="1504.5">ycf1</text>
<text class="g" x="479.6" y="1504.5">rpl32</text>
<text class="g" x="575.1" y="1503.3">ccsA</text>
<text class="g" x="511.2" y="1546.6">trnL-UAG</text>
<text class="g" x="645.8" y="1503.3">ndhD</text>
<text class="g" x="729.2" y="1503.3">ndhE</text>
<text class="g" x="812.5" y="1503.3">ndhI</text>
<text class="g" x="880.5" y="1503.3">ndhA</text>
<text class="g" x="699.5" y="1545.4">psaC</text>
<text class="g" x="760.8" y="1545.4">ndhG</text>
<text class="g" x="966.7" y="1461.2">ndhH</text>
<text class="g" x="1010.3" y="1503.3">rps15</text>
<text class="g" x="1185.8" y="1503.3">ycf1</text>
<text class="g" x="1306.6" y="1503.3">trnN-GUU</text>
<text class="g" x="1410.8" y="1503.3">5S</text>
<text class="g" x="1413.8" y="1479.4">4.5S</text>
<text class="g" x="1500" y="1503.3">23S</text>
<text class="g" x="1562.2" y="1503.3">trnA-UGC</text>
<text class="g" x="1343.8" y="1545.4">trnR-ACG</text>
<text class="g" x="1623.5" y="1545.4">trnI-GAU</text>
<text class="g" x="1752.8" y="1503.3">trnV-GAC</text>
<text class="g" x="1887.8" y="1503.3">rps12</text>
<text class="g" x="1814" y="1545.4">ycf15</text>
<text class="g" x="1931.8" y="1545.4">rps7</text>
<text class="g" x="2012.1" y="1504.5">ndhB</text>
<text class="g" x="2073.4" y="1504.5">trnL-CAA</text>
<polygon points="297.5,96.2 291,105.7 297.5,115.2 295.9,105.7" fill="#858585"/>
<polygon points="362,101.1 319,101.1 319,97.8 301,105.7 319,113.6 319,110.3 362,110.3" fill="#858585"/>
<polygon points="506.7,101.1 384.6,101.1 384.6,97.8 366.6,105.7 384.6,113.6 384.6,110.3 506.7,110.3" fill="#858585"/>
<polygon points="601.6,101.1 557,101.1 557,97.8 539,105.7 557,113.6 557,110.3 601.6,110.3" fill="#858585"/>
<polygon points="670,96.2 663.6,105.7 670,115.2 668.4,105.7" fill="#858585"/>
<polygon points="683.9,97.8 697.7,105.7 683.9,113.6" fill="#858585"/>
<polygon points="710.6,97.8 718,105.7 710.6,113.6" fill="#858585"/>
<polygon points="731.8,97.8 722.6,105.7 731.8,113.6" fill="#858585"/>
<polygon points="756.7,101.1 782,101.1 782,97.8 800,105.7 782,113.6 782,110.3 756.7,110.3" fill="#858585"/>
<polygon points="805.5,96.2 810,105.7 805.5,115.2 807.1,105.7" fill="#858585"/>
<polygon points="894,101.1 832.7,101.1 832.7,97.8 814.7,105.7 832.7,113.6 832.7,110.3 894,110.3" fill="#858585"/>
<polygon points="962,101.1 913.8,101.1 913.8,97.8 895.8,105.7 913.8,113.6 913.8,110.3 962,110.3" fill="#858585"/>
<polygon points="993.4,97.8 973,105.7 993.4,113.6" fill="#858585"/>
<polygon points="1088,101.1 1065,101.1 1065,97.8 1047,105.7 1065,113.6 1065,110.3 1088,110.3" fill="#858585"/>
<polygon points="1138,101.1 1114.7,101.1 1114.7,97.8 1096.7,105.7 1114.7,113.6 1114.7,110.3 1138,110.3" fill="#858585"/>
<polygon points="1365.7,101.1 1164.4,101.1 1164.4,97.8 1146.4,105.7 1164.4,113.6 1164.4,110.3 1365.7,110.3" fill="#858585"/>
<polygon points="1523.3,101.1 1392,101.1 1392,97.8 1374,105.7 1392,113.6 1392,110.3 1523.3,110.3" fill="#858585"/>
<polygon points="1748,97.8 1757.3,105.7 1748,113.6" fill="#858585"/>
<polygon points="1791.4,96.2 1797.8,105.7 1791.4,115.2 1793,105.7" fill="#858585"/>
<polygon points="1861.4,97.8 1853,105.7 1861.4,113.6" fill="#858585"/>
<polygon points="1902,96.2 1896.4,105.7 1902,115.2 1900.4,105.7" fill="#858585"/>
<polygon points="1913,97.8 1905.7,105.7 1913,113.6" fill="#858585"/>
<polygon points="1920.4,97.8 1912,105.7 1920.4,113.6" fill="#858585"/>
<polygon points="1958,96.2 1963.7,105.7 1958,115.2 1959.6,105.7" fill="#858585"/>
<polygon points="2038.4,101.1 2079.8,101.1 2079.8,97.8 2097.8,105.7 2079.8,113.6 2079.8,110.3 2038.4,110.3" fill="#858585"/>
<polygon points="2183.2,96.2 2176.7,105.7 2183.2,115.2 2181.6,105.7" fill="#858585"/>
<polygon points="2197,96.2 2204.6,105.7 2197,115.2 2198.6,105.7" fill="#858585"/>
<polygon points="466,57.4 403,57.4 403,54.1 385,62 403,69.9 403,66.6 466,66.6" fill="#858585"/>
<polygon points="1689,57.4 1537.6,57.4 1537.6,54.1 1519.6,62 1537.6,69.9 1537.6,66.6 1689,66.6" fill="#858585"/>
<polygon points="2090.4,57.4 2150.4,57.4 2150.4,54.1 2168.4,62 2150.4,69.9 2150.4,66.6 2090.4,66.6" fill="#858585"/>
<polygon points="293,556.5 286,566 293,575.5 291.4,566" fill="#858585"/>
<polygon points="315,556.5 308,566 315,575.5 313.4,566" fill="#858585"/>
<polygon points="327,558.1 319,566 327,573.9" fill="#858585"/>
<polygon points="349,558.1 331,566 349,573.9" fill="#858585"/>
<polygon points="469.5,561.4 371.3,561.4 371.3,558.1 353.3,566 371.3,573.9 371.3,570.6 469.5,570.6" fill="#858585"/>
<polygon points="590.2,561.4 489.3,561.4 489.3,558.1 471.3,566 489.3,573.9 489.3,570.6 590.2,570.6" fill="#858585"/>
<polygon points="728.4,561.4 640.4,561.4 640.4,558.1 622.4,566 640.4,573.9 640.4,570.6 728.4,570.6" fill="#858585"/>
<polygon points="768,556.5 774.4,566 768,575.5 769.6,566" fill="#858585"/>
<polygon points="824.2,561.4 804.4,561.4 804.4,558.1 786.4,566 804.4,573.9 804.4,570.6 824.2,570.6" fill="#858585"/>
<polygon points="846.3,556.5 840.8,566 846.3,575.5 844.7,566" fill="#858585"/>
<polygon points="883.2,561.4 900.2,561.4 900.2,558.1 918.2,566 900.2,573.9 900.2,570.6 883.2,570.6" fill="#858585"/>
<polygon points="932,556.5 937.5,566 932,575.5 933.6,566" fill="#858585"/>
<polygon points="984.5,561.4 974,561.4 974,558.1 956,566 974,573.9 974,570.6 984.5,570.6" fill="#858585"/>
<polygon points="1024,561.4 1005.3,561.4 1005.3,558.1 987.3,566 1005.3,573.9 1005.3,570.6 1024,570.6" fill="#858585"/>
<polygon points="1046.2,558.1 1026,566 1046.2,573.9" fill="#858585"/>
<polygon points="1135.6,561.4 1118.6,561.4 1118.6,558.1 1100.6,566 1118.6,573.9 1118.6,570.6 1135.6,570.6" fill="#858585"/>
<polygon points="1142,558.1 1151.3,566 1142,573.9" fill="#858585"/>
<polygon points="1181.7,561.4 1174,561.4 1174,558.1 1156,566 1174,573.9 1174,570.6 1181.7,570.6" fill="#858585"/>
<polygon points="1296,561.4 1356.3,561.4 1356.3,558.1 1374.3,566 1356.3,573.9 1356.3,570.6 1296,570.6" fill="#858585"/>
<polygon points="1400,561.4 1463,561.4 1463,558.1 1481,566 1463,573.9 1463,570.6 1400,570.6" fill="#858585"/>
<polygon points="1499.6,558.1 1508.8,566 1499.6,573.9" fill="#858585"/>
<polygon points="1527,561.4 1540.6,561.4 1540.6,558.1 1558.6,566 1540.6,573.9 1540.6,570.6 1527,570.6" fill="#858585"/>
<polygon points="1570.5,561.4 1590.3,561.4 1590.3,558.1 1608.3,566 1590.3,573.9 1590.3,570.6 1570.5,570.6" fill="#858585"/>
<polygon points="1616.6,561.4 1652,561.4 1652,558.1 1670,566 1652,573.9 1652,570.6 1616.6,570.6" fill="#858585"/>
<polygon points="1725,558.1 1715,566 1725,573.9" fill="#858585"/>
<polygon points="1745,558.1 1731,566 1745,573.9" fill="#858585"/>
<polygon points="1757,558.1 1745,566 1757,573.9" fill="#858585"/>
<polygon points="1817,556.5 1811,566 1817,575.5 1815.4,566" fill="#858585"/>
<polygon points="1832,556.5 1823,566 1832,575.5 1830.4,566" fill="#858585"/>
<polygon points="1840,556.5 1836,566 1840,575.5 1838.4,566" fill="#858585"/>
<polygon points="1852,556.5 1844,566 1852,575.5 1850.4,566" fill="#858585"/>
<polygon points="1878,558.1 1870,566 1878,573.9" fill="#858585"/>
<polygon points="1898.6,558.1 1909.6,566 1898.6,573.9" fill="#858585"/>
<polygon points="1922.5,558.1 1941,566 1922.5,573.9" fill="#858585"/>
<polygon points="1970.4,558.1 1946.5,566 1970.4,573.9" fill="#858585"/>
<polygon points="2016.3,558.1 2008,566 2016.3,573.9" fill="#858585"/>
<polygon points="2130.6,561.4 2037,561.4 2037,558.1 2019,566 2037,573.9 2037,570.6 2130.6,570.6" fill="#858585"/>
<polygon points="2152.7,561.4 2185.4,561.4 2185.4,558.1 2203.4,566 2185.4,573.9 2185.4,570.6 2152.7,570.6" fill="#858585"/>
<polygon points="1258.2,517.4 1196,517.4 1196,514.1 1178,522 1196,529.9 1196,526.6 1258.2,526.6" fill="#858585"/>
<polygon points="1745.6,512.5 1738,522 1745.6,531.5 1744,522" fill="#858585"/>
<polygon points="2016.3,514.1 2008,522 2016.3,529.9" fill="#858585"/>
<polygon points="285.5,1043.4 303.9,1043.4 303.9,1040.1 321.9,1048 303.9,1055.9 303.9,1052.6 285.5,1052.6" fill="#858585"/>
<polygon points="327.7,1043.4 329.43,1043.4 329.43,1040.1 345,1048 329.43,1055.9 329.43,1052.6 327.7,1052.6" fill="#858585"/>
<polygon points="364,1040.1 349,1048 364,1055.9" fill="#858585"/>
<polygon points="372,1038.5 367.5,1048 372,1057.5 370.4,1048" fill="#858585"/>
<polygon points="381.3,1043.4 428.4,1043.4 428.4,1040.1 446.4,1048 428.4,1055.9 428.4,1052.6 381.3,1052.6" fill="#858585"/>
<polygon points="452,1043.4 499.2,1043.4 499.2,1040.1 517.2,1048 499.2,1055.9 499.2,1052.6 452,1052.6" fill="#858585"/>
<polygon points="577.5,1043.4 540,1043.4 540,1040.1 522,1048 540,1055.9 540,1052.6 577.5,1052.6" fill="#858585"/>
<polygon points="605.3,1043.4 599.4,1043.4 599.4,1040.1 581.4,1048 599.4,1055.9 599.4,1052.6 605.3,1052.6" fill="#858585"/>
<polygon points="614,1040.1 605.3,1048 614,1055.9" fill="#858585"/>
<polygon points="633,1040.1 617.8,1048 633,1055.9" fill="#858585"/>
<polygon points="660.8,1043.4 655,1043.4 655,1040.1 637,1048 655,1055.9 655,1052.6 660.8,1052.6" fill="#858585"/>
<polygon points="690.5,1043.4 685.5,1043.4 685.5,1040.1 667.5,1048 685.5,1055.9 685.5,1052.6 690.5,1052.6" fill="#858585"/>
<polygon points="768,1043.4 713.3,1043.4 713.3,1040.1 695.3,1048 713.3,1055.9 713.3,1052.6 768,1052.6" fill="#858585"/>
<polygon points="808.3,1043.4 790,1043.4 790,1040.1 772,1048 790,1055.9 790,1052.6 808.3,1052.6" fill="#858585"/>
<polygon points="854.2,1040.1 837,1048 854.2,1055.9" fill="#858585"/>
<polygon points="932.7,1043.4 872.2,1043.4 872.2,1040.1 854.2,1048 872.2,1055.9 872.2,1052.6 932.7,1052.6" fill="#858585"/>
<polygon points="947,1040.1 932.7,1048 947,1055.9" fill="#858585"/>
<polygon points="959.5,1038.5 954.8,1048 959.5,1057.5 957.9,1048" fill="#858585"/>
<polygon points="962.4,1043.4 1271.9,1043.4 1271.9,1040.1 1289.9,1048 1271.9,1055.9 1271.9,1052.6 962.4,1052.6" fill="#858585"/>
<polygon points="1355,1038.5 1348,1048 1355,1057.5 1353.4,1048" fill="#858585"/>
<polygon points="1498.6,1043.4 1399.8,1043.4 1399.8,1040.1 1381.8,1048 1399.8,1055.9 1399.8,1052.6 1498.6,1052.6" fill="#858585"/>
<polygon points="1540,1043.4 1528,1043.4 1528,1040.1 1510,1048 1528,1055.9 1528,1052.6 1540,1052.6" fill="#858585"/>
<polygon points="1582,1043.4 1558.7,1043.4 1558.7,1040.1 1540.7,1048 1558.7,1055.9 1558.7,1052.6 1582,1052.6" fill="#858585"/>
<polygon points="1644,1040.1 1627.9,1048 1644,1055.9" fill="#858585"/>
<polygon points="1668,1038.5 1674.8,1048 1668,1057.5 1669.6,1048" fill="#858585"/>
<polygon points="1777.2,1043.4 1814.8,1043.4 1814.8,1040.1 1832.8,1048 1814.8,1055.9 1814.8,1052.6 1777.2,1052.6" fill="#858585"/>
<polygon points="1835.6,1043.4 1866.5,1043.4 1866.5,1040.1 1884.5,1048 1866.5,1055.9 1866.5,1052.6 1835.6,1052.6" fill="#858585"/>
<polygon points="1888.3,1043.4 2017.7,1043.4 2017.7,1040.1 2035.7,1048 2017.7,1055.9 2017.7,1052.6 1888.3,1052.6" fill="#858585"/>
<polygon points="2038.4,1040.1 2046.7,1048 2038.4,1055.9" fill="#858585"/>
<polygon points="2057,1040.1 2065,1048 2057,1055.9" fill="#858585"/>
<polygon points="2078,1038.5 2084,1048 2078,1057.5 2079.6,1048" fill="#858585"/>
<polygon points="2112,1038.5 2118,1048 2112,1057.5 2113.6,1048" fill="#858585"/>
<polygon points="2131.2,1043.4 2184.8,1043.4 2184.8,1040.1 2202.8,1048 2184.8,1055.9 2184.8,1052.6 2131.2,1052.6" fill="#858585"/>
<polygon points="837,999.9 823.4,999.9 823.4,996.6 805.4,1004.5 823.4,1012.4 823.4,1009.1 837,1009.1" fill="#858585"/>
<polygon points="285.5,1515.2 324,1515.2 324,1511.9 342,1519.8 324,1527.7 324,1524.4 285.5,1524.4" fill="#858585"/>
<polygon points="506.7,1511.9 520,1519.8 506.7,1527.7" fill="#858585"/>
<polygon points="569,1510.3 574.7,1519.8 569,1529.3 570.6,1519.8" fill="#858585"/>
<polygon points="578.2,1515.2 612.8,1515.2 612.8,1511.9 630.8,1519.8 612.8,1527.7 612.8,1524.4 578.2,1524.4" fill="#858585"/>
<polygon points="719.9,1515.2 655.5,1515.2 655.5,1511.9 637.5,1519.8 655.5,1527.7 655.5,1524.4 719.9,1524.4" fill="#858585"/>
<polygon points="738,1511.9 722.8,1519.8 738,1527.7" fill="#858585"/>
<polygon points="768.7,1511.9 748.6,1519.8 768.7,1527.7" fill="#858585"/>
<polygon points="809,1515.2 794.4,1515.2 794.4,1511.9 776.4,1519.8 794.4,1527.7 794.4,1524.4 809,1524.4" fill="#858585"/>
<polygon points="855.8,1515.2 840.3,1515.2 840.3,1511.9 822.3,1519.8 840.3,1527.7 840.3,1524.4 855.8,1524.4" fill="#858585"/>
<polygon points="971.7,1515.2 873.8,1515.2 873.8,1511.9 855.8,1519.8 873.8,1527.7 873.8,1524.4 971.7,1524.4" fill="#858585"/>
<polygon points="1052.1,1511.9 1035.8,1519.8 1052.1,1527.7" fill="#858585"/>
<polygon points="1353.7,1515.2 1084.5,1515.2 1084.5,1511.9 1066.5,1519.8 1084.5,1527.7 1084.5,1524.4 1353.7,1524.4" fill="#858585"/>
<polygon points="1366.2,1510.3 1372.9,1519.8 1366.2,1529.3 1367.8,1519.8" fill="#858585"/>
<polygon points="1407.3,1510.3 1400.6,1519.8 1407.3,1529.3 1405.7,1519.8" fill="#858585"/>
<polygon points="1428.4,1511.9 1419.8,1519.8 1428.4,1527.7" fill="#858585"/>
<polygon points="1446.6,1511.9 1439,1519.8 1446.6,1527.7" fill="#858585"/>
<polygon points="1597.9,1515.2 1468.4,1515.2 1468.4,1511.9 1450.4,1519.8 1468.4,1527.7 1468.4,1524.4 1597.9,1524.4" fill="#858585"/>
<polygon points="1650.5,1515.2 1618.7,1515.2 1618.7,1511.9 1600.7,1519.8 1618.7,1527.7 1618.7,1524.4 1650.5,1524.4" fill="#858585"/>
<polygon points="1709,1515.2 1668.5,1515.2 1668.5,1511.9 1650.5,1519.8 1668.5,1527.7 1668.5,1524.4 1709,1524.4" fill="#858585"/>
<polygon points="1817.1,1510.3 1810.4,1519.8 1817.1,1529.3 1815.5,1519.8" fill="#858585"/>
<polygon points="1842,1511.9 1858.3,1519.8 1842,1527.7" fill="#858585"/>
<polygon points="1903.3,1515.2 1927.4,1515.2 1927.4,1511.9 1945.4,1519.8 1927.4,1527.7 1927.4,1524.4 1903.3,1524.4" fill="#858585"/>
<polygon points="1945.5,1515.2 1957.2,1515.2 1957.2,1511.9 1975.2,1519.8 1957.2,1527.7 1957.2,1524.4 1945.5,1524.4" fill="#858585"/>
<polygon points="1986.4,1515.2 2086.3,1515.2 2086.3,1511.9 2104.3,1519.8 2086.3,1527.7 2086.3,1524.4 1986.4,1524.4" fill="#858585"/>
<polygon points="2131.2,1510.3 2136.8,1519.8 2131.2,1529.3 2132.8,1519.8" fill="#858585"/>
<polygon points="457.9,1472.1 354.3,1472.1 354.3,1468.8 336.3,1476.7 354.3,1484.6 354.3,1481.3 457.9,1481.3" fill="#858585"/>
<polygon points="1034,1472.4 985.9,1472.4 985.9,1469.1 967.9,1477 985.9,1484.9 985.9,1481.6 1034,1481.6" fill="#858585"/>
<polygon points="69,1543.25 83,1543.25 83,1540 100,1547.5 83,1555 83,1551.75 69,1551.75" fill="#858585"/>
<rect x="69" y="1562" width="22.2" height="20" fill="#8888ff"/>
<rect x="69" y="1586.5" width="22.2" height="21.1" fill="#66efef"/>
<rect x="69" y="1611" width="22.2" height="21" fill="#ff8888"/>
<text class="lg" x="116" y="1556">gene</text>
<text class="lg" x="116" y="1581">exon</text>
<text class="lg" x="116" y="1606.4">rRNA</text>
<text class="lg" x="116" y="1629.7">CNS</text>
</svg></div></body></html>
